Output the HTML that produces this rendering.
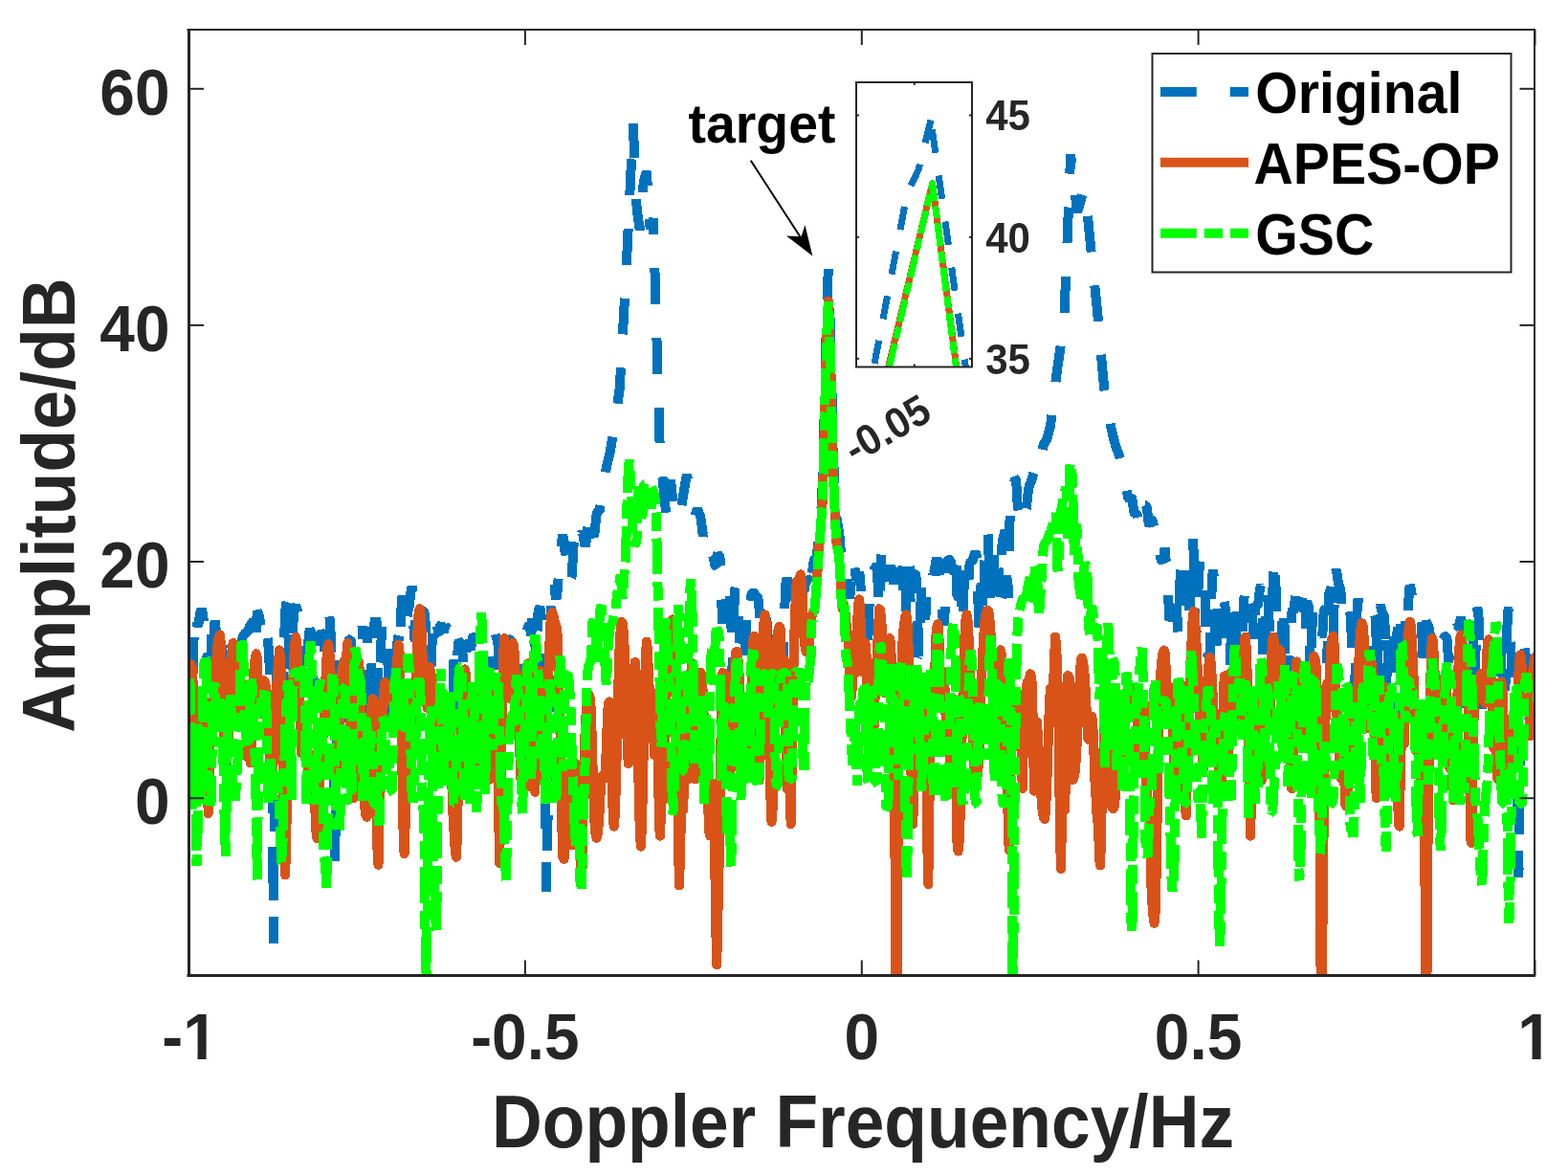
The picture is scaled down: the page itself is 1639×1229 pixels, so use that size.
<!DOCTYPE html>
<html><head><meta charset="utf-8"><title>Doppler spectrum</title>
<style>
html,body{margin:0;padding:0;background:#fff;}
svg{display:block;}
.t{font-family:"Liberation Sans",Arial,sans-serif;font-weight:bold;font-size:69.3px;fill:#262626;}
.k{font-family:"Liberation Sans",Arial,sans-serif;font-weight:bold;fill:#000;}
</style></head>
<body>
<svg width="1639" height="1229" viewBox="0 0 1639 1229">
<rect width="1639" height="1229" fill="#fff"/>
<clipPath id="pc"><rect x="197.0" y="31.0" width="1407.5" height="988.5"/></clipPath>
<g clip-path="url(#pc)" shape-rendering="crispEdges">
<path d="M197.5,722.2 L198.5,700.7 L199.5,694.1 L200.5,707.2 L201.5,707.7 L202.5,669.9 L203.5,642.4 L204.5,640.3 L205.5,648.0 L206.5,654.6 L207.5,651.8 L208.6,645.2 L209.6,639.3 L210.6,636.2 L211.6,639.8 L212.6,647.3 L213.6,652.5 L214.6,658.1 L215.6,676.8 L216.6,701.9 L217.6,682.0 L218.6,657.6 L219.6,654.9 L220.6,658.8 L221.6,685.5 L222.6,701.8 L223.6,666.9 L224.6,648.6 L225.6,657.5 L226.6,686.4 L227.6,702.2 L228.7,693.4 L229.7,701.2 L230.7,734.2 L231.7,700.1 L232.7,671.7 L233.7,690.0 L234.7,711.3 L235.7,739.1 L236.7,786.8 L237.7,816.1 L238.7,779.8 L239.7,748.8 L240.7,720.1 L241.7,697.5 L242.7,699.0 L243.7,663.9 L244.7,662.2 L245.7,664.6 L246.7,668.0 L247.8,670.4 L248.8,672.3 L249.8,675.5 L250.8,677.8 L251.8,674.1 L252.8,668.6 L253.8,665.6 L254.8,663.8 L255.8,662.3 L256.8,661.2 L257.8,661.0 L258.8,660.7 L259.8,657.7 L260.8,655.0 L261.8,653.3 L262.8,651.8 L263.8,650.3 L264.8,649.0 L265.8,653.7 L266.8,677.0 L267.9,651.9 L268.9,638.7 L269.9,640.4 L270.9,644.5 L271.9,648.9 L272.9,656.5 L273.9,651.8 L274.9,647.3 L275.9,646.4 L276.9,646.8 L277.9,650.9 L278.9,662.0 L279.9,668.9 L280.9,679.5 L281.9,700.8 L282.9,732.9 L283.9,783.1 L284.9,864.1 L285.9,986.0 L286.9,850.9 L288.0,764.6 L289.0,715.8 L290.0,687.6 L291.0,679.0 L292.0,699.1 L293.0,738.7 L294.0,758.6 L295.0,759.5 L296.0,732.9 L297.0,672.3 L298.0,641.0 L299.0,631.8 L300.0,628.8 L301.0,636.0 L302.0,666.5 L303.0,699.1 L304.0,693.7 L305.0,675.2 L306.0,658.2 L307.0,642.3 L308.0,634.9 L309.1,632.5 L310.1,635.0 L311.1,639.4 L312.1,643.8 L313.1,660.4 L314.1,683.7 L315.1,693.8 L316.1,692.6 L317.1,683.2 L318.1,673.6 L319.1,673.5 L320.1,685.7 L321.1,694.2 L322.1,673.7 L323.1,660.3 L324.1,658.5 L325.1,659.7 L326.1,678.3 L327.1,726.4 L328.1,723.5 L329.2,702.1 L330.2,710.3 L331.2,738.8 L332.2,710.3 L333.2,668.9 L334.2,663.9 L335.2,662.6 L336.2,661.6 L337.2,662.2 L338.2,672.1 L339.2,680.7 L340.2,666.3 L341.2,656.3 L342.2,653.6 L343.2,649.5 L344.2,643.4 L345.2,651.3 L346.2,678.4 L347.2,719.6 L348.2,771.9 L349.3,852.1 L350.3,904.5 L351.3,829.0 L352.3,749.0 L353.3,714.0 L354.3,691.3 L355.3,679.6 L356.3,712.8 L357.3,734.4 L358.3,717.9 L359.3,723.4 L360.3,752.3 L361.3,751.6 L362.3,707.7 L363.3,679.4 L364.3,670.4 L365.3,668.0 L366.3,667.8 L367.3,672.4 L368.4,694.0 L369.4,740.8 L370.4,755.4 L371.4,723.2 L372.4,692.2 L373.4,670.2 L374.4,661.0 L375.4,657.9 L376.4,653.6 L377.4,651.1 L378.4,653.7 L379.4,667.8 L380.4,661.8 L381.4,659.1 L382.4,658.9 L383.4,659.5 L384.4,701.7 L385.4,759.0 L386.4,701.5 L387.4,679.3 L388.4,706.5 L389.5,752.9 L390.5,688.4 L391.5,650.3 L392.5,646.1 L393.5,649.2 L394.5,673.3 L395.5,731.4 L396.5,727.5 L397.5,694.4 L398.5,669.3 L399.5,654.0 L400.5,651.7 L401.5,651.0 L402.5,650.4 L403.5,650.0 L404.5,653.9 L405.5,694.5 L406.5,747.8 L407.5,758.4 L408.6,741.4 L409.6,700.4 L410.6,680.5 L411.6,688.6 L412.6,732.1 L413.6,755.8 L414.6,701.2 L415.6,667.3 L416.6,665.7 L417.6,680.0 L418.6,665.1 L419.6,632.5 L420.6,622.7 L421.6,630.0 L422.6,637.4 L423.6,649.4 L424.6,653.5 L425.6,644.5 L426.6,638.1 L427.6,633.9 L428.6,626.2 L429.7,616.7 L430.7,612.8 L431.7,624.5 L432.7,663.9 L433.7,669.8 L434.7,631.4 L435.7,626.4 L436.7,628.6 L437.7,632.0 L438.7,638.8 L439.7,645.5 L440.7,639.6 L441.7,638.2 L442.7,638.8 L443.7,640.9 L444.7,651.3 L445.7,673.6 L446.7,684.7 L447.7,683.3 L448.8,685.5 L449.8,695.6 L450.8,695.0 L451.8,665.7 L452.8,647.1 L453.8,644.6 L454.8,642.2 L455.8,641.2 L456.8,645.7 L457.8,662.1 L458.8,662.6 L459.8,653.9 L460.8,653.2 L461.8,654.7 L462.8,658.4 L463.8,661.2 L464.8,656.0 L465.8,653.5 L466.8,655.7 L467.8,659.2 L468.8,661.7 L469.9,663.2 L470.9,663.9 L471.9,665.0 L472.9,671.3 L473.9,699.0 L474.9,751.0 L475.9,759.8 L476.9,745.8 L477.9,691.8 L478.9,672.6 L479.9,670.2 L480.9,670.8 L481.9,672.9 L482.9,677.3 L483.9,687.7 L484.9,704.1 L485.9,703.7 L486.9,681.4 L487.9,673.2 L489.0,672.8 L490.0,673.7 L491.0,676.9 L492.0,679.4 L493.0,671.9 L494.0,666.1 L495.0,663.4 L496.0,665.4 L497.0,669.2 L498.0,671.5 L499.0,672.3 L500.0,672.9 L501.0,673.6 L502.0,673.1 L503.0,671.3 L504.0,670.2 L505.0,669.8 L506.0,670.0 L507.0,672.5 L508.0,684.8 L509.1,712.6 L510.1,743.1 L511.1,735.6 L512.1,692.4 L513.1,669.2 L514.1,664.5 L515.1,659.8 L516.1,657.3 L517.1,659.8 L518.1,664.3 L519.1,666.9 L520.1,668.5 L521.1,681.3 L522.1,700.0 L523.1,683.6 L524.1,670.3 L525.1,668.5 L526.1,668.5 L527.1,670.1 L528.1,675.3 L529.1,678.9 L530.2,673.4 L531.2,669.1 L532.2,668.3 L533.2,668.3 L534.2,669.4 L535.2,680.0 L536.2,709.8 L537.2,723.4 L538.2,716.3 L539.2,713.2 L540.2,716.1 L541.2,713.4 L542.2,705.2 L543.2,705.3 L544.2,721.5 L545.2,740.0 L546.2,720.6 L547.2,682.2 L548.2,669.0 L549.2,664.5 L550.3,661.1 L551.3,657.7 L552.3,654.5 L553.3,652.3 L554.3,658.8 L555.3,664.5 L556.3,648.4 L557.3,638.7 L558.3,643.5 L559.3,669.9 L560.3,699.0 L561.3,670.7 L562.3,642.2 L563.3,636.3 L564.3,635.1 L565.3,637.7 L566.3,657.2 L567.3,687.3 L568.3,726.4 L569.4,786.1 L570.4,868.8 L571.4,931.6 L572.4,864.0 L573.4,798.1 L574.4,740.9 L575.4,677.6 L576.4,629.2 L577.4,608.1 L578.4,604.9 L579.4,608.8 L580.4,620.6 L581.4,626.6 L582.4,619.6 L583.4,608.2 L584.4,587.8 L585.4,588.5 L586.4,577.9 L587.4,564.5 L588.4,559.4 L589.5,565.3 L590.5,576.6 L591.5,578.7 L592.5,575.7 L593.5,573.0 L594.5,578.1 L595.5,592.1 L596.5,605.6 L597.5,603.5 L598.5,588.4 L599.5,570.6 L600.5,562.8 L601.5,562.8 L602.5,566.4 L603.5,571.4 L604.5,575.1 L605.5,571.3 L606.5,566.4 L607.5,558.4 L608.5,556.3 L609.5,558.7 L610.6,566.3 L611.6,571.5 L612.6,566.2 L613.6,554.6 L614.6,549.2 L615.6,550.1" fill="none" stroke="#0072BD" stroke-width="10" stroke-linejoin="bevel" stroke-dasharray="37.75 35.0" stroke-dashoffset="26.22"/>
<path d="M616.6,553.3 L617.6,554.8 L618.6,555.8 L619.6,559.1 L620.6,560.5 L621.6,555.9 L622.6,546.0 L623.6,537.6 L624.6,534.1 L625.6,534.1 L626.6,533.8 L627.6,527.9 L628.6,520.1 L629.7,513.5 L630.7,508.6 L631.7,503.4 L632.7,496.6 L633.7,489.5 L634.7,484.4 L635.7,480.5 L636.7,476.9 L637.7,472.3 L638.7,466.7 L639.7,460.7 L640.7,454.7 L641.7,447.2 L642.7,440.3 L643.7,433.6 L644.7,426.8 L645.7,420.0 L646.7,413.1 L647.7,406.3 L648.7,388.3 L649.8,370.3 L650.8,351.9 L651.8,333.4 L652.8,314.8 L653.8,296.3 L654.8,277.8 L655.8,256.6 L656.8,235.4 L657.8,214.2 L658.8,193.0 L659.8,171.9 L660.8,150.7 L661.8,129.5 L662.8,154.2 L663.8,178.9" fill="none" stroke="#0072BD" stroke-width="10" stroke-linejoin="bevel" stroke-dasharray="37.75 35.0" stroke-dashoffset="67.50"/>
<path d="M664.8,203.6 L665.8,219.5 L666.8,226.6 L667.8,233.6 L668.8,240.7 L669.8,226.6 L670.9,212.4 L671.9,198.3 L672.9,189.5 L673.9,186.0 L674.9,182.4 L675.9,178.9 L676.9,196.6 L677.9,214.2 L678.9,231.9 L679.9,238.9 L680.9,235.4 L681.9,231.9 L682.9,228.4 L683.9,263.7 L684.9,298.9 L685.9,334.1 L686.9,369.1 L687.9,404.2 L688.9,439.6 L689.9,474.5 L691.0,483.8 L692.0,493.7 L693.0,504.4 L694.0,514.9 L695.0,524.9 L696.0,534.5 L697.0,543.9 L698.0,532.1 L699.0,518.8 L700.0,504.7 L701.0,501.8 L702.0,511.0 L703.0,520.8 L704.0,529.6 L705.0,530.1 L706.0,530.6 L707.0,532.6 L708.0,536.6 L709.0,541.0 L710.0,542.3 L711.1,539.5 L712.1,530.3 L713.1,524.0 L714.1,518.2 L715.1,512.3 L716.1,506.4 L717.1,500.5 L718.1,495.8 L719.1,502.9 L720.1,508.0 L721.1,508.8 L722.1,509.6 L723.1,513.2 L724.1,516.9 L725.1,521.4 L726.1,531.4 L727.1,536.6 L728.1,533.8 L729.1,532.1 L730.1,534.6 L731.2,537.3 L732.2,540.2 L733.2,546.1 L734.2,555.8 L735.2,559.5 L736.2,557.3 L737.2,554.1 L738.2,553.0 L739.2,553.9 L740.2,557.7 L741.2,564.6 L742.2,573.6 L743.2,579.6 L744.2,580.7 L745.2,581.0 L746.2,585.1 L747.2,591.4 L748.2,591.7 L749.2,582.0 L750.2,579.1 L751.3,580.3 L752.3,581.9 L753.3,588.4 L754.3,630.9 L755.3,651.8 L756.3,637.1 L757.3,630.1 L758.3,634.3 L759.3,633.8 L760.3,622.4 L761.3,619.1 L762.3,619.1 L763.3,620.7 L764.3,643.2 L765.3,710.1 L766.3,691.5 L767.3,636.0 L768.3,615.7 L769.3,611.5 L770.4,615.7 L771.4,628.7 L772.4,652.1 L773.4,671.5 L774.4,669.6 L775.4,660.2 L776.4,661.9 L777.4,678.2 L778.4,689.3 L779.4,667.2 L780.4,641.7 L781.4,632.7 L782.4,635.6 L783.4,640.1 L784.4,630.4 L785.4,621.4 L786.4,619.8 L787.4,619.5 L788.4,619.9 L789.4,621.4 L790.5,623.0 L791.5,623.4 L792.5,625.8 L793.5,636.1 L794.5,655.7 L795.5,668.4 L796.5,664.4 L797.5,656.1 L798.5,651.0 L799.5,647.8 L800.5,645.9 L801.5,649.2 L802.5,662.8 L803.5,690.2 L804.5,723.3 L805.5,731.4 L806.5,725.2 L807.5,716.2 L808.5,711.4 L809.5,708.1 L810.5,707.2 L811.6,711.9 L812.6,715.1 L813.6,699.6 L814.6,672.8 L815.6,655.8 L816.6,656.1 L817.6,675.2 L818.6,696.3 L819.6,668.8 L820.6,626.5 L821.6,608.2 L822.6,604.1 L823.6,608.5 L824.6,621.5 L825.6,636.1 L826.6,626.5 L827.6,613.2 L828.6,610.3 L829.6,612.6 L830.6,616.6 L831.7,619.0 L832.7,620.0 L833.7,620.6 L834.7,631.6 L835.7,650.5 L836.7,632.2 L837.7,619.5 L838.7,617.7 L839.7,617.1 L840.7,616.7 L841.7,610.4 L842.7,608.7 L843.7,606.8 L844.7,605.0 L845.7,605.4 L846.7,615.9 L847.7,620.5 L848.7,604.8 L849.7,591.6 L850.8,585.8 L851.8,583.2 L852.8,585.4 L853.8,582.6 L854.8,571.5 L855.8,560.3 L856.8,552.0 L857.8,543.7 L858.8,525.4 L859.8,503.3 L860.8,469.0 L861.8,425.2 L862.8,378.2 L863.8,342.5 L864.8,306.8 L865.8,281.4 L866.8,306.8 L867.8,342.5 L868.8,378.0 L869.8,424.7 L870.9,467.8 L871.9,500.4 L872.9,521.2 L873.9,539.6 L874.9,543.5 L875.9,549.4 L876.9,556.0 L877.9,563.7 L878.9,577.6 L879.9,587.6 L880.9,589.1 L881.9,592.8 L882.9,601.6 L883.9,607.7 L884.9,605.4 L885.9,604.4 L886.9,612.4 L887.9,625.0 L888.9,620.0 L889.9,598.5 L891.0,587.5 L892.0,583.1 L893.0,589.0 L894.0,598.8 L895.0,603.8 L896.0,604.3 L897.0,601.1 L898.0,598.2 L899.0,602.9 L900.0,620.2 L901.0,649.1 L902.0,678.7 L903.0,694.4 L904.0,696.6 L905.0,696.0 L906.0,694.0 L907.0,681.7 L908.0,648.7 L909.0,619.4 L910.0,605.8 L911.0,601.2 L912.1,598.7 L913.1,596.6 L914.1,594.4 L915.1,592.6 L916.1,592.1 L917.1,598.7 L918.1,623.0 L919.1,638.2 L920.1,611.5 L921.1,582.7 L922.1,574.4 L923.1,578.4 L924.1,587.0 L925.1,594.6 L926.1,600.4 L927.1,604.6 L928.1,606.3 L929.1,601.5 L930.1,594.1 L931.2,591.7 L932.2,594.3 L933.2,600.1 L934.2,619.1 L935.2,626.7 L936.2,603.6 L937.2,600.0 L938.2,599.1 L939.2,598.2 L940.2,597.4 L941.2,596.6 L942.2,595.7 L943.2,595.0 L944.2,597.2 L945.2,662.1 L946.2,682.3 L947.2,598.2 L948.2,583.0 L949.2,579.4 L950.2,582.3 L951.2,604.8 L952.3,678.3 L953.3,671.2 L954.3,614.5 L955.3,598.9 L956.3,598.4 L957.3,601.2 L958.3,612.5 L959.3,646.7 L960.3,686.4 L961.3,685.0 L962.3,634.4 L963.3,608.2 L964.3,606.7 L965.3,607.6 L966.3,618.0 L967.3,647.9 L968.3,625.5 L969.3,596.7 L970.3,594.9 L971.4,596.3 L972.4,596.4 L973.4,595.9 L974.4,597.2 L975.4,599.3 L976.4,597.4 L977.4,592.5 L978.4,586.2 L979.4,583.1 L980.4,587.0 L981.4,595.7 L982.4,607.0 L983.4,620.6 L984.4,633.8 L985.4,644.9 L986.4,653.9 L987.4,645.2 L988.4,608.8 L989.4,587.7 L990.4,585.8 L991.5,585.3 L992.5,584.8 L993.5,585.0 L994.5,597.6 L995.5,597.3 L996.5,577.1 L997.5,573.2 L998.5,576.1 L999.5,586.0 L1000.5,623.1 L1001.5,623.7 L1002.5,595.9 L1003.5,590.1 L1004.5,599.9 L1005.5,637.3 L1006.5,654.0 L1007.5,616.6 L1008.5,594.9 L1009.5,592.4 L1010.5,599.6 L1011.6,611.9 L1012.6,604.3 L1013.6,588.7 L1014.6,586.7 L1015.6,586.7 L1016.6,585.6 L1017.6,582.8 L1018.6,579.3 L1019.6,576.9 L1020.6,579.4 L1021.6,597.2 L1022.6,633.8 L1023.6,657.0 L1024.6,632.2 L1025.6,609.3 L1026.6,613.6 L1027.6,645.7 L1028.6,636.3 L1029.6,576.7 L1030.6,557.8 L1031.7,554.7 L1032.7,558.3 L1033.7,585.1 L1034.7,628.2 L1035.7,590.1 L1036.7,568.0 L1037.7,566.6 L1038.7,573.0 L1039.7,599.3 L1040.7,608.5 L1041.7,591.1" fill="none" stroke="#0072BD" stroke-width="10" stroke-linejoin="bevel" stroke-dasharray="37.75 35.0" stroke-dashoffset="68.37"/>
<path d="M1041.7,591.1 L1042.7,584.6 L1043.7,596.8 L1044.7,623.0 L1045.7,620.8 L1046.7,584.1 L1047.7,566.1 L1048.7,562.3 L1049.7,557.3 L1050.7,554.1 L1051.8,565.5 L1052.8,620.1 L1053.8,624.8 L1054.8,570.0 L1055.8,534.2 L1056.8,528.9 L1057.8,526.7 L1058.8,518.7 L1059.8,506.8 L1060.8,500.2 L1061.8,501.0 L1062.8,511.2 L1063.8,529.9 L1064.8,533.8 L1065.8,524.8 L1066.8,518.4 L1067.8,518.7 L1068.8,522.2 L1069.8,527.8 L1070.8,530.7 L1071.8,533.5 L1072.9,531.0 L1073.9,521.6 L1074.9,512.4 L1075.9,507.7 L1076.9,505.0 L1077.9,502.8 L1078.9,499.7 L1079.9,495.8 L1080.9,492.5 L1081.9,490.6 L1082.9,492.4 L1083.9,494.9 L1084.9,494.5 L1085.9,491.0 L1086.9,485.4 L1087.9,479.2 L1088.9,473.2 L1089.9,468.1 L1090.9,464.5 L1092.0,462.2 L1093.0,461.0 L1094.0,459.7 L1095.0,456.8 L1096.0,452.8 L1097.0,448.9 L1098.0,445.5 L1099.0,437.1 L1100.0,428.0 L1101.0,419.4 L1102.0,411.2 L1103.0,403.0 L1104.0,394.7 L1105.0,386.5 L1106.0,379.8 L1107.0,373.0 L1108.0,366.2 L1109.0,359.5 L1110.0,352.9 L1111.0,346.2 L1112.0,339.4 L1113.1,314.1 L1114.1,288.7 L1115.1,263.2 L1116.1,237.8 L1117.1,212.4 L1118.1,187.0 L1119.1,161.6 L1120.1,170.2" fill="none" stroke="#0072BD" stroke-width="10" stroke-linejoin="bevel" stroke-dasharray="37.75 35.0" stroke-dashoffset="57.11"/>
<path d="M1121.1,178.9 L1122.1,187.5 L1123.1,196.2 L1124.1,204.9 L1125.1,213.5 L1126.1,222.1 L1127.1,218.6 L1128.1,215.0 L1129.1,211.5 L1130.1,208.0 L1131.1,204.5 L1132.1,201.0 L1133.2,197.5 L1134.2,204.9 L1135.2,212.2 L1136.2,219.6 L1137.2,228.4 L1138.2,238.7 L1139.2,249.0 L1140.2,259.2 L1141.2,268.9 L1142.2,278.6 L1143.2,288.2 L1144.2,297.9 L1145.2,307.6 L1146.2,317.2 L1147.2,326.8 L1148.2,338.4 L1149.2,350.0 L1150.2,361.6 L1151.2,373.3 L1152.2,384.9 L1153.3,396.1 L1154.3,406.7 L1155.3,411.6 L1156.3,417.0 L1157.3,422.6 L1158.3,428.6 L1159.3,434.8 L1160.3,440.8 L1161.3,446.7 L1162.3,450.7 L1163.3,455.1 L1164.3,459.2 L1165.3,462.9 L1166.3,466.1 L1167.3,469.2 L1168.3,471.6 L1169.3,474.4 L1170.3,477.3 L1171.3,481.5 L1172.3,488.1 L1173.4,496.7 L1174.4,504.2 L1175.4,508.1 L1176.4,508.6 L1177.4,510.9 L1178.4,515.8 L1179.4,520.5 L1180.4,521.3 L1181.4,519.3 L1182.4,518.9 L1183.4,521.9 L1184.4,528.9 L1185.4,535.6 L1186.4,537.8 L1187.4,537.0 L1188.4,537.5 L1189.4,541.5 L1190.4,547.3 L1191.4,550.0 L1192.5,551.0 L1193.5,546.5 L1194.5,538.8 L1195.5,531.0 L1196.5,527.7 L1197.5,527.8 L1198.5,529.8 L1199.5,536.2 L1200.5,545.8 L1201.5,549.6 L1202.5,546.3 L1203.5,543.0 L1204.5,543.8 L1205.5,547.9 L1206.5,551.1 L1207.5,550.7 L1208.5,549.1 L1209.5,550.5 L1210.5,557.2 L1211.5,568.2 L1212.5,579.8 L1213.6,584.9 L1214.6,586.1 L1215.6,587.1 L1216.6,581.9 L1217.6,572.4 L1218.6,584.8 L1219.6,593.9 L1220.6,609.6 L1221.6,632.7 L1222.6,648.8 L1223.6,645.6 L1224.6,640.7 L1225.6,647.3 L1226.6,659.2 L1227.6,654.2 L1228.6,637.2 L1229.6,631.7 L1230.6,645.9 L1231.6,664.4 L1232.7,637.9 L1233.7,598.7 L1234.7,580.8 L1235.7,580.3 L1236.7,594.4 L1237.7,616.7 L1238.7,610.8 L1239.7,588.7 L1240.7,581.0 L1241.7,589.2 L1242.7,621.6 L1243.7,653.5 L1244.7,614.7 L1245.7,574.6 L1246.7,562.1 L1247.7,577.2 L1248.7,618.8 L1249.7,666.3 L1250.7,659.4 L1251.7,631.0 L1252.8,609.0 L1253.8,591.1 L1254.8,584.8 L1255.8,585.6 L1256.8,587.4 L1257.8,589.5 L1258.8,594.0 L1259.8,621.6 L1260.8,670.6 L1261.8,688.4 L1262.8,682.5 L1263.8,688.3 L1264.8,684.2 L1265.8,644.7 L1266.8,608.6 L1267.8,595.5 L1268.8,602.5 L1269.8,630.4 L1270.8,679.2 L1271.8,692.0 L1272.8,649.2 L1273.9,622.2 L1274.9,616.1 L1275.9,616.0 L1276.9,617.6 L1277.9,620.5 L1278.9,624.5 L1279.9,629.6 L1280.9,637.1 L1281.9,651.2 L1282.9,680.0 L1283.9,729.1 L1284.9,734.5 L1285.9,701.7 L1286.9,653.0 L1287.9,633.7 L1288.9,630.8 L1289.9,634.7 L1290.9,646.1 L1291.9,663.0 L1293.0,679.9 L1294.0,695.7 L1295.0,711.3 L1296.0,722.4 L1297.0,718.7 L1298.0,689.6 L1299.0,652.2 L1300.0,628.4 L1301.0,621.4 L1302.0,624.3 L1303.0,633.9 L1304.0,636.7 L1305.0,628.5 L1306.0,626.5 L1307.0,625.9 L1308.0,625.5 L1309.0,630.1 L1310.0,670.9 L1311.0,673.2 L1312.0,641.1 L1313.0,631.0 L1314.1,633.1 L1315.1,633.3 L1316.1,622.1 L1317.1,614.7 L1318.1,611.5 L1319.1,614.7 L1320.1,652.0 L1321.1,736.9 L1322.1,715.0 L1323.1,642.6 L1324.1,618.6 L1325.1,615.8 L1326.1,629.4 L1327.1,674.4 L1328.1,737.8 L1329.1,706.0 L1330.1,630.2 L1331.1,592.0 L1332.1,581.9 L1333.2,599.4 L1334.2,643.6 L1335.2,697.8 L1336.2,716.7 L1337.2,714.8 L1338.2,704.3 L1339.2,671.0 L1340.2,639.8 L1341.2,630.1 L1342.2,641.7 L1343.2,676.5 L1344.2,711.5 L1345.2,699.5 L1346.2,685.6 L1347.2,692.3 L1348.2,695.0 L1349.2,666.4 L1350.2,641.7 L1351.2,635.6 L1352.2,640.2 L1353.2,634.3 L1354.3,613.4 L1355.3,606.6 L1356.3,610.0 L1357.3,616.4 L1358.3,626.8 L1359.3,637.2 L1360.3,628.2 L1361.3,625.9 L1362.3,630.9 L1363.3,659.0 L1364.3,665.8 L1365.3,633.4 L1366.3,629.9 L1367.3,631.0 L1368.3,636.5 L1369.3,685.3 L1370.3,712.3 L1371.3,659.3 L1372.3,640.2 L1373.3,639.5 L1374.4,642.3 L1375.4,647.1 L1376.4,647.5 L1377.4,644.7 L1378.4,644.3 L1379.4,645.6 L1380.4,650.4 L1381.4,665.9 L1382.4,662.1 L1383.4,642.8 L1384.4,636.8 L1385.4,636.0 L1386.4,662.1 L1387.4,692.9 L1388.4,637.7 L1389.4,620.3 L1390.4,616.7 L1391.4,613.9 L1392.4,622.5 L1393.5,667.4 L1394.5,636.1 L1395.5,599.6 L1396.5,595.5 L1397.5,599.6 L1398.5,606.7 L1399.5,611.3 L1400.5,613.9 L1401.5,619.0 L1402.5,633.9 L1403.5,644.7 L1404.5,641.6 L1405.5,636.2 L1406.5,634.5 L1407.5,634.4 L1408.5,633.3 L1409.5,632.6 L1410.5,634.9 L1411.5,643.0 L1412.5,660.7 L1413.6,685.7 L1414.6,710.5 L1415.6,721.1 L1416.6,703.7 L1417.6,667.6 L1418.6,636.5 L1419.6,625.1 L1420.6,637.2 L1421.6,667.1 L1422.6,695.3 L1423.6,702.4 L1424.6,695.8 L1425.6,688.6 L1426.6,686.9 L1427.6,693.5 L1428.6,710.2 L1429.6,733.7 L1430.6,745.6 L1431.6,738.0 L1432.6,704.9 L1433.7,668.4 L1434.7,646.3 L1435.7,641.8 L1436.7,641.8 L1437.7,644.9 L1438.7,671.3 L1439.7,711.0 L1440.7,673.3 L1441.7,637.4 L1442.7,632.5 L1443.7,635.7 L1444.7,640.4 L1445.7,641.7 L1446.7,642.4 L1447.7,655.6 L1448.7,713.1 L1449.7,740.9 L1450.7,682.2 L1451.7,655.7 L1452.7,651.5 L1453.8,650.4 L1454.8,650.4 L1455.8,651.7 L1456.8,661.4 L1457.8,701.5 L1458.8,751.8 L1459.8,697.3 L1460.8,645.2 L1461.8,637.5 L1462.8,636.4 L1463.8,645.1 L1464.8,679.4 L1465.8,679.6 L1466.8,651.8 L1467.8,642.0 L1468.8,651.3 L1469.8,677.2 L1470.8,679.5 L1471.8,643.8 L1472.8,618.2 L1473.8,611.5 L1474.9,615.7 L1475.9,624.0 L1476.9,629.6 L1477.9,631.1 L1478.9,631.2 L1479.9,631.5 L1480.9,631.2 L1481.9,629.9 L1482.9,630.1 L1483.9,634.2 L1484.9,641.3 L1485.9,652.8 L1486.9,675.0 L1487.9,693.9 L1488.9,675.0 L1489.9,652.0 L1490.9,650.2 L1491.9,651.7 L1492.9,653.3 L1493.9,657.3 L1495.0,664.2 L1496.0,666.6 L1497.0,667.6 L1498.0,670.2 L1499.0,672.5 L1500.0,675.1 L1501.0,675.8 L1502.0,676.3 L1503.0,678.9 L1504.0,682.7 L1505.0,685.1 L1506.0,685.0 L1507.0,681.5 L1508.0,673.0 L1509.0,666.9 L1510.0,665.5 L1511.0,665.2 L1512.0,665.5 L1513.0,671.3 L1514.0,692.1 L1515.1,686.8 L1516.1,670.5 L1517.1,666.6 L1518.1,667.0 L1519.1,668.0 L1520.1,665.1 L1521.1,660.7 L1522.1,656.1 L1523.1,653.4 L1524.1,655.0 L1525.1,655.6 L1526.1,649.2 L1527.1,644.9 L1528.1,650.1 L1529.1,667.6 L1530.1,689.0 L1531.1,697.2 L1532.1,706.3 L1533.1,739.5 L1534.2,756.0 L1535.2,707.3 L1536.2,658.7 L1537.2,651.7 L1538.2,651.1 L1539.2,655.0 L1540.2,697.7 L1541.2,747.0 L1542.2,694.6 L1543.2,647.9 L1544.2,635.0 L1545.2,639.5 L1546.2,657.8 L1547.2,692.0 L1548.2,731.5 L1549.2,749.0 L1550.2,747.4 L1551.2,745.3 L1552.2,747.9 L1553.2,748.1 L1554.2,736.7 L1555.3,716.2 L1556.3,699.1 L1557.3,690.2 L1558.3,690.4 L1559.3,701.2 L1560.3,724.4 L1561.3,749.7 L1562.3,751.3 L1563.3,732.2 L1564.3,718.8 L1565.3,728.5 L1566.3,754.1 L1567.3,755.3 L1568.3,712.7 L1569.3,677.2 L1570.3,666.8 L1571.3,677.1 L1572.3,706.7 L1573.3,721.6 L1574.3,687.4 L1575.4,654.6 L1576.4,638.1 L1577.4,635.0 L1578.4,649.6 L1579.4,679.0 L1580.4,707.4 L1581.4,719.7 L1582.4,725.2 L1583.4,730.0 L1584.4,743.0 L1585.4,777.8 L1586.4,844.1 L1587.4,916.8 L1588.4,847.3 L1589.4,767.3 L1590.4,722.3 L1591.4,692.6 L1592.4,672.1 L1593.4,665.8 L1594.5,683.1 L1595.5,706.1 L1596.5,721.4 L1597.5,740.2 L1598.5,751.7 L1599.5,732.5 L1600.5,702.8 L1601.5,692.7 L1602.5,703.2 L1603.5,724.7 L1604.5,722.3" fill="none" stroke="#0072BD" stroke-width="10" stroke-linejoin="bevel" stroke-dasharray="37.75 35.0" stroke-dashoffset="47.80"/>
<path d="M197.5,701.5 L198.5,696.3 L199.5,694.3 L200.5,696.4 L201.5,710.2 L202.5,756.9 L203.5,768.0 L204.5,726.1 L205.5,724.4 L206.5,727.4 L207.5,756.6 L208.6,805.1 L209.6,776.2 L210.6,751.9 L211.6,763.6 L212.6,802.7 L213.6,786.5 L214.6,756.3 L215.6,758.2 L216.6,781.4 L217.6,850.1 L218.6,809.8 L219.6,755.1 L220.6,748.1 L221.6,739.2 L222.6,728.2 L223.6,723.1 L224.6,759.4 L225.6,713.9 L226.6,683.2 L227.6,672.4 L228.7,665.6 L229.7,663.4 L230.7,670.5 L231.7,691.7 L232.7,723.6 L233.7,757.3 L234.7,780.4 L235.7,796.9 L236.7,795.6 L237.7,789.2 L238.7,770.9 L239.7,744.9 L240.7,719.9 L241.7,692.5 L242.7,676.0 L243.7,672.1 L244.7,680.6 L245.7,700.5 L246.7,720.4 L247.8,743.3 L248.8,737.3 L249.8,726.3 L250.8,722.8 L251.8,720.0 L252.8,717.0 L253.8,715.0 L254.8,715.3 L255.8,718.9 L256.8,735.5 L257.8,778.2 L258.8,791.7 L259.8,788.1 L260.8,780.0 L261.8,797.5 L262.8,786.8 L263.8,759.4 L264.8,709.7 L265.8,694.8 L266.8,686.9 L267.9,683.2 L268.9,688.3 L269.9,721.9 L270.9,746.2 L271.9,736.9 L272.9,712.2 L273.9,710.7 L274.9,711.4 L275.9,711.6 L276.9,712.5 L277.9,718.1 L278.9,738.6 L279.9,763.7 L280.9,779.0 L281.9,792.1 L282.9,819.3 L283.9,825.3 L284.9,822.7 L285.9,783.7 L286.9,743.5 L288.0,725.4 L289.0,716.7 L290.0,707.2 L291.0,692.9 L292.0,679.4 L293.0,684.7 L294.0,710.4 L295.0,750.8 L296.0,805.5 L297.0,869.0 L298.0,914.3 L299.0,891.7 L300.0,833.3 L301.0,782.4 L302.0,749.2 L303.0,732.4 L304.0,737.4 L305.0,739.9 L306.0,714.9 L307.0,693.2 L308.0,673.5 L309.1,665.9 L310.1,670.0 L311.1,685.7 L312.1,712.7 L313.1,740.1 L314.1,767.3 L315.1,787.3 L316.1,781.7 L317.1,770.2 L318.1,762.0 L319.1,757.6 L320.1,759.5 L321.1,772.4 L322.1,801.5 L323.1,835.2 L324.1,835.6 L325.1,833.2 L326.1,832.8 L327.1,826.3 L328.1,828.1 L329.2,842.8 L330.2,866.6 L331.2,876.0 L332.2,872.5 L333.2,852.4 L334.2,813.9 L335.2,787.4 L336.2,774.1 L337.2,772.5 L338.2,765.3 L339.2,739.8 L340.2,714.1 L341.2,691.8 L342.2,677.6 L343.2,673.3 L344.2,679.1 L345.2,694.0 L346.2,714.7 L347.2,739.9 L348.2,766.0 L349.3,759.9 L350.3,734.9 L351.3,722.3 L352.3,729.2 L353.3,770.5 L354.3,814.6 L355.3,752.4 L356.3,705.0 L357.3,701.0 L358.3,697.1 L359.3,691.2 L360.3,697.0 L361.3,702.0 L362.3,683.6 L363.3,672.1 L364.3,685.5 L365.3,722.7 L366.3,770.1 L367.3,806.8 L368.4,826.2 L369.4,834.0 L370.4,814.8 L371.4,768.7 L372.4,728.8 L373.4,705.8 L374.4,690.5 L375.4,692.6 L376.4,730.5 L377.4,767.5 L378.4,793.4 L379.4,813.7 L380.4,826.8 L381.4,844.4 L382.4,851.7 L383.4,853.8 L384.4,851.6 L385.4,811.7 L386.4,772.8 L387.4,751.1 L388.4,737.0 L389.5,730.2 L390.5,731.2 L391.5,743.3 L392.5,764.9 L393.5,798.3 L394.5,887.8 L395.5,903.7 L396.5,856.2 L397.5,828.5 L398.5,796.4 L399.5,765.2 L400.5,739.6 L401.5,720.3 L402.5,712.9 L403.5,718.3 L404.5,731.1 L405.5,732.0 L406.5,724.6 L407.5,723.0 L408.6,721.8 L409.6,721.0 L410.6,720.7 L411.6,717.9 L412.6,712.3 L413.6,706.2 L414.6,697.9 L415.6,684.9 L416.6,673.8 L417.6,682.0 L418.6,712.4 L419.6,760.9 L420.6,814.1 L421.6,871.7 L422.6,892.1 L423.6,863.1 L424.6,825.5 L425.6,795.3 L426.6,768.8 L427.6,741.8 L428.6,722.3 L429.7,716.5 L430.7,717.7 L431.7,730.1 L432.7,753.5 L433.7,756.8 L434.7,722.5 L435.7,681.1 L436.7,653.2 L437.7,639.6 L438.7,636.2 L439.7,642.9 L440.7,661.8 L441.7,688.4 L442.7,709.2 L443.7,714.9 L444.7,720.0 L445.7,735.1 L446.7,739.8 L447.7,709.5 L448.8,696.8 L449.8,700.8 L450.8,705.8 L451.8,712.4 L452.8,718.9 L453.8,723.7 L454.8,726.4 L455.8,727.7 L456.8,729.4 L457.8,753.6 L458.8,810.2 L459.8,807.9 L460.8,788.0 L461.8,799.2 L462.8,813.1 L463.8,775.0 L464.8,732.0 L465.8,729.1 L466.8,729.1 L467.8,729.1 L468.8,729.2 L469.9,729.5 L470.9,735.7 L471.9,799.3 L472.9,841.2 L473.9,858.8 L474.9,876.0 L475.9,890.3 L476.9,895.8 L477.9,875.5 L478.9,821.0 L479.9,793.4 L480.9,786.5 L481.9,776.4 L482.9,738.5 L483.9,710.4 L484.9,701.4 L485.9,699.3 L486.9,704.4 L487.9,716.9 L489.0,724.8 L490.0,730.0 L491.0,744.9 L492.0,782.2 L493.0,812.2 L494.0,814.5 L495.0,815.2 L496.0,815.4 L497.0,815.5 L498.0,815.4 L499.0,796.7 L500.0,770.1 L501.0,766.1 L502.0,772.4 L503.0,763.6 L504.0,734.9 L505.0,712.2 L506.0,704.8 L507.0,702.7 L508.0,702.1 L509.1,705.3 L510.1,724.7 L511.1,770.4 L512.1,814.6 L513.1,806.1 L514.1,755.1 L515.1,727.5 L516.1,717.7 L517.1,726.7 L518.1,743.8 L519.1,763.1 L520.1,795.0 L521.1,848.5 L522.1,902.0 L523.1,857.1 L524.1,784.8 L525.1,721.6 L526.1,683.2 L527.1,667.2 L528.1,677.7 L529.1,702.9 L530.2,707.5 L531.2,702.6 L532.2,711.4 L533.2,730.3 L534.2,715.7 L535.2,688.2 L536.2,672.1 L537.2,674.4 L538.2,693.2 L539.2,716.2 L540.2,711.5 L541.2,704.6 L542.2,717.8 L543.2,780.4 L544.2,813.5 L545.2,749.4 L546.2,715.2 L547.2,724.6 L548.2,775.8 L549.2,753.3 L550.3,698.5 L551.3,693.8 L552.3,693.4 L553.3,710.3 L554.3,822.5 L555.3,790.2 L556.3,732.4 L557.3,735.7 L558.3,760.2 L559.3,827.8 L560.3,787.6 L561.3,732.3 L562.3,718.2 L563.3,705.9 L564.3,700.9 L565.3,754.8 L566.3,815.3 L567.3,794.5 L568.3,754.1 L569.4,748.1 L570.4,757.2 L571.4,760.5 L572.4,738.5 L573.4,704.7 L574.4,672.3 L575.4,651.2 L576.4,642.4 L577.4,640.1 L578.4,643.1 L579.4,648.9 L580.4,652.1 L581.4,653.5 L582.4,659.5 L583.4,680.9 L584.4,716.5 L585.4,760.0 L586.4,812.2 L587.4,866.9 L588.4,895.8 L589.5,897.9 L590.5,883.0 L591.5,862.2 L592.5,841.1 L593.5,811.3 L594.5,801.9 L595.5,821.4 L596.5,856.3 L597.5,883.4 L598.5,866.0 L599.5,827.2 L600.5,801.9 L601.5,797.6 L602.5,806.0 L603.5,813.2 L604.5,822.5 L605.5,849.6 L606.5,895.9 L607.5,923.4 L608.5,909.4 L609.5,845.9 L610.6,796.1 L611.6,763.9 L612.6,745.8 L613.6,734.3 L614.6,727.2 L615.6,726.4 L616.6,728.8 L617.6,739.3 L618.6,766.3 L619.6,803.5 L620.6,838.0 L621.6,861.5 L622.6,872.5 L623.6,876.0 L624.6,872.6 L625.6,863.3 L626.6,848.9 L627.6,829.9 L628.6,815.4 L629.7,810.9 L630.7,813.4 L631.7,813.6 L632.7,807.3 L633.7,783.3 L634.7,756.0 L635.7,736.3 L636.7,733.4 L637.7,745.8 L638.7,769.1 L639.7,804.6 L640.7,853.2 L641.7,863.7 L642.7,852.3 L643.7,826.5 L644.7,787.8 L645.7,743.5 L646.7,702.4 L647.7,672.5 L648.7,657.0 L649.8,649.8 L650.8,651.4 L651.8,661.1 L652.8,678.8 L653.8,706.1 L654.8,744.4 L655.8,783.1 L656.8,798.1 L657.8,796.2 L658.8,780.8 L659.8,758.6 L660.8,736.3 L661.8,717.9 L662.8,700.6 L663.8,691.9 L664.8,705.1 L665.8,740.2 L666.8,785.8 L667.8,829.9 L668.8,869.2 L669.8,884.7 L670.9,865.6 L671.9,824.0 L672.9,777.5 L673.9,723.2 L674.9,685.4 L675.9,670.8 L676.9,679.0 L677.9,701.5 L678.9,725.3 L679.9,729.6 L680.9,723.2 L681.9,729.9 L682.9,758.5 L683.9,789.0 L684.9,768.9 L685.9,749.5 L686.9,755.9 L687.9,789.9 L688.9,861.1 L689.9,873.6 L691.0,850.4 L692.0,815.9 L693.0,824.9 L694.0,835.3 L695.0,805.4 L696.0,737.1 L697.0,711.9 L698.0,707.6 L699.0,707.2 L700.0,691.4 L701.0,667.9 L702.0,651.9 L703.0,647.4 L704.0,652.6 L705.0,674.0 L706.0,706.8 L707.0,747.2 L708.0,804.0 L709.0,883.1 L710.0,925.5 L711.1,890.3 L712.1,844.6 L713.1,841.6 L714.1,846.6 L715.1,818.7 L716.1,739.8 L717.1,715.4 L718.1,723.6 L719.1,770.1 L720.1,813.8 L721.1,752.5 L722.1,704.6 L723.1,693.1 L724.1,695.9 L725.1,718.0 L726.1,774.0 L727.1,814.4 L728.1,783.9 L729.1,737.2 L730.1,714.0 L731.2,704.7 L732.2,702.6 L733.2,705.1 L734.2,714.1 L735.2,733.8 L736.2,767.8 L737.2,814.2 L738.2,832.4 L739.2,833.7 L740.2,843.3 L741.2,868.6 L742.2,873.6 L743.2,869.2 L744.2,831.3 L745.2,818.6 L746.2,838.5 L747.2,895.7 L748.2,967.0 L749.2,1008.3 L750.2,966.0 L751.3,915.2 L752.3,876.0 L753.3,786.9 L754.3,719.2 L755.3,703.1 L756.3,703.4 L757.3,704.0 L758.3,707.2 L759.3,743.5 L760.3,807.6 L761.3,811.8 L762.3,808.9 L763.3,807.8 L764.3,799.4 L765.3,774.8 L766.3,730.9 L767.3,705.1 L768.3,690.4 L769.3,681.3 L770.4,680.6 L771.4,687.3 L772.4,700.1 L773.4,726.3 L774.4,770.8 L775.4,803.1 L776.4,796.5 L777.4,763.3 L778.4,744.5 L779.4,737.9 L780.4,740.5 L781.4,753.7 L782.4,777.3 L783.4,785.8 L784.4,765.6 L785.4,731.3 L786.4,694.9 L787.4,668.7 L788.4,664.6 L789.4,678.5 L790.5,703.4 L791.5,745.9 L792.5,796.9 L793.5,815.5 L794.5,775.2 L795.5,731.9 L796.5,697.8 L797.5,670.2 L798.5,650.7 L799.5,642.4 L800.5,647.5 L801.5,668.2 L802.5,703.9 L803.5,747.2 L804.5,793.8 L805.5,836.1 L806.5,858.7 L807.5,847.5 L808.5,815.8 L809.5,779.6 L810.5,734.5 L811.6,685.3 L812.6,663.1 L813.6,657.6 L814.6,654.8 L815.6,656.8 L816.6,690.8 L817.6,725.6 L818.6,709.7 L819.6,689.0 L820.6,703.0 L821.6,789.2 L822.6,824.5 L823.6,771.8 L824.6,774.2 L825.6,818.7 L826.6,861.2 L827.6,808.0 L828.6,738.9 L829.6,692.2 L830.6,655.3 L831.7,625.3 L832.7,607.8 L833.7,615.6 L834.7,613.5 L835.7,604.5 L836.7,600.4 L837.7,606.7 L838.7,623.0 L839.7,644.9 L840.7,672.1 L841.7,676.9 L842.7,681.1 L843.7,681.7 L844.7,680.6 L845.7,674.9 L846.7,663.5 L847.7,651.3 L848.7,643.0 L849.7,639.7 L850.8,639.2 L851.8,634.2 L852.8,621.4 L853.8,608.0 L854.8,592.9 L855.8,578.2 L856.8,564.6 L857.8,552.6 L858.8,537.8 L859.8,521.8 L860.8,487.9 L861.8,445.7 L862.8,401.0 L863.8,367.6 L864.8,334.1 L865.8,314.8 L866.8,333.9 L867.8,367.3 L868.8,400.5 L869.8,444.8 L870.9,487.1 L871.9,521.6 L872.9,539.2 L873.9,560.9 L874.9,571.7 L875.9,574.9 L876.9,581.6 L877.9,592.0 L878.9,612.9 L879.9,633.2 L880.9,636.4 L881.9,631.6 L882.9,634.5 L883.9,644.2 L884.9,655.2 L885.9,661.7 L886.9,671.2 L887.9,696.1 L888.9,722.6 L889.9,728.4 L891.0,716.6 L892.0,690.6 L893.0,693.1 L894.0,703.2 L895.0,682.9 L896.0,654.2 L897.0,632.4 L898.0,626.4 L899.0,634.3 L900.0,657.5 L901.0,683.4 L902.0,702.7 L903.0,682.6 L904.0,671.4 L905.0,673.9 L906.0,694.1 L907.0,750.0 L908.0,780.4 L909.0,734.0 L910.0,713.5 L911.0,729.7 L912.1,781.5 L913.1,770.8 L914.1,742.9 L915.1,712.4 L916.1,696.5 L917.1,677.2 L918.1,654.5 L919.1,636.2 L920.1,637.6 L921.1,645.9 L922.1,661.8 L923.1,696.9 L924.1,724.1 L925.1,720.6 L926.1,708.9 L927.1,695.2 L928.1,679.5 L929.1,669.7 L930.1,667.1 L931.2,673.3 L932.2,704.3 L933.2,748.0 L934.2,793.0 L935.2,860.8 L936.2,972.8 L937.2,1138.1 L938.2,935.6 L939.2,820.6 L940.2,765.2 L941.2,733.6 L942.2,703.6 L943.2,674.1 L944.2,660.6 L945.2,651.2 L946.2,644.7 L947.2,642.4 L948.2,645.4 L949.2,663.6 L950.2,696.7 L951.2,741.2 L952.3,800.0 L953.3,848.0 L954.3,861.2 L955.3,823.6 L956.3,792.6 L957.3,777.1 L958.3,775.9 L959.3,783.6 L960.3,793.8 L961.3,808.2 L962.3,811.8 L963.3,811.7 L964.3,745.1 L965.3,721.8 L966.3,744.4 L967.3,772.7 L968.3,806.7 L969.3,883.6 L970.3,924.2 L971.4,844.1 L972.4,783.4 L973.4,746.0 L974.4,719.2 L975.4,721.4 L976.4,729.7 L977.4,696.0 L978.4,664.3 L979.4,654.6 L980.4,652.3 L981.4,663.9 L982.4,694.7 L983.4,717.5 L984.4,720.9 L985.4,704.4 L986.4,702.0 L987.4,716.1 L988.4,745.9 L989.4,758.7 L990.4,754.5 L991.5,761.3 L992.5,783.8 L993.5,808.0 L994.5,790.0 L995.5,747.7 L996.5,730.1 L997.5,731.0 L998.5,745.7 L999.5,795.0 L1000.5,881.2 L1001.5,889.6 L1002.5,880.8 L1003.5,857.3 L1004.5,819.5 L1005.5,772.7 L1006.5,725.3 L1007.5,687.5 L1008.5,662.9 L1009.5,647.4 L1010.5,642.4 L1011.6,648.6 L1012.6,666.1 L1013.6,689.0 L1014.6,716.4 L1015.6,744.6 L1016.6,765.2 L1017.6,795.1 L1018.6,810.3 L1019.6,813.9 L1020.6,814.1 L1021.6,810.9 L1022.6,802.2 L1023.6,783.5 L1024.6,755.7 L1025.6,725.4 L1026.6,697.8 L1027.6,675.5 L1028.6,659.2 L1029.6,647.7 L1030.6,641.0 L1031.7,638.1 L1032.7,637.7 L1033.7,641.2 L1034.7,649.6 L1035.7,664.3 L1036.7,686.4 L1037.7,710.7 L1038.7,724.0 L1039.7,730.8 L1040.7,752.3 L1041.7,798.2 L1042.7,779.2 L1043.7,712.0 L1044.7,682.6 L1045.7,679.3 L1046.7,683.4 L1047.7,714.5 L1048.7,782.1 L1049.7,772.8 L1050.7,744.9 L1051.8,755.9 L1052.8,798.8 L1053.8,870.9 L1054.8,888.4 L1055.8,823.4 L1056.8,772.9 L1057.8,743.6 L1058.8,726.2 L1059.8,723.6 L1060.8,734.1 L1061.8,744.3 L1062.8,737.0 L1063.8,726.2 L1064.8,724.7 L1065.8,735.0 L1066.8,756.3 L1067.8,796.8 L1068.8,824.1 L1069.8,779.6 L1070.8,746.3 L1071.8,731.4 L1072.9,717.9 L1073.9,712.3 L1074.9,721.6 L1075.9,710.6 L1076.9,704.3 L1077.9,706.9 L1078.9,715.9 L1079.9,762.6 L1080.9,826.6 L1081.9,809.3 L1082.9,764.0 L1083.9,754.3 L1084.9,768.8 L1085.9,795.1 L1086.9,813.1 L1087.9,824.9 L1088.9,839.9 L1089.9,849.2 L1090.9,854.6 L1092.0,856.2 L1093.0,846.9 L1094.0,826.7 L1095.0,797.8 L1096.0,762.2 L1097.0,732.6 L1098.0,719.3 L1099.0,724.5 L1100.0,736.7 L1101.0,719.0 L1102.0,691.2 L1103.0,665.7 L1104.0,672.6 L1105.0,695.8 L1106.0,728.6 L1107.0,789.6 L1108.0,875.0 L1109.0,908.2 L1110.0,856.0 L1111.0,811.5 L1112.0,806.0 L1113.1,846.5 L1114.1,807.6 L1115.1,719.1 L1116.1,705.9 L1117.1,707.0 L1118.1,709.4 L1119.1,723.7 L1120.1,784.2 L1121.1,815.1 L1122.1,814.1 L1123.1,810.7 L1124.1,802.6 L1125.1,788.0 L1126.1,768.1 L1127.1,746.8 L1128.1,722.6 L1129.1,699.9 L1130.1,688.2 L1131.1,687.8 L1132.1,692.6 L1133.2,700.5 L1134.2,711.7 L1135.2,731.1 L1136.2,755.1 L1137.2,771.3 L1138.2,773.0 L1139.2,763.8 L1140.2,753.1 L1141.2,748.7 L1142.2,754.7 L1143.2,777.5 L1144.2,812.6 L1145.2,826.9 L1146.2,848.1 L1147.2,855.3 L1148.2,870.0 L1149.2,898.3 L1150.2,904.5 L1151.2,863.8 L1152.2,821.4 L1153.3,787.5 L1154.3,760.4 L1155.3,738.2 L1156.3,726.7 L1157.3,729.4 L1158.3,757.6 L1159.3,802.7 L1160.3,832.2 L1161.3,840.2 L1162.3,843.9 L1163.3,845.1 L1164.3,843.9 L1165.3,839.8 L1166.3,823.6 L1167.3,793.0 L1168.3,771.4 L1169.3,769.0 L1170.3,790.8 L1171.3,811.9 L1172.3,799.2 L1173.4,755.1 L1174.4,730.9 L1175.4,725.1 L1176.4,724.6 L1177.4,725.7 L1178.4,727.2 L1179.4,728.8 L1180.4,733.4 L1181.4,743.4 L1182.4,747.6 L1183.4,732.9 L1184.4,721.4 L1185.4,719.5 L1186.4,719.1 L1187.4,719.3 L1188.4,725.6 L1189.4,762.5 L1190.4,800.9 L1191.4,780.0 L1192.5,745.7 L1193.5,729.7 L1194.5,726.9 L1195.5,733.3 L1196.5,753.6 L1197.5,791.0 L1198.5,824.2 L1199.5,841.0 L1200.5,850.0 L1201.5,856.4 L1202.5,890.5 L1203.5,927.8 L1204.5,945.4 L1205.5,957.3 L1206.5,964.9 L1207.5,956.4 L1208.5,919.3 L1209.5,861.2 L1210.5,805.7 L1211.5,759.5 L1212.5,722.7 L1213.6,698.4 L1214.6,688.0 L1215.6,681.7 L1216.6,679.5 L1217.6,682.0 L1218.6,696.5 L1219.6,733.8 L1220.6,757.2 L1221.6,735.8 L1222.6,719.1 L1223.6,718.4 L1224.6,723.8 L1225.6,743.8 L1226.6,780.8 L1227.6,810.4 L1228.6,812.9 L1229.6,804.1 L1230.6,773.8 L1231.6,739.1 L1232.7,720.1 L1233.7,713.6 L1234.7,717.0 L1235.7,730.4 L1236.7,750.5 L1237.7,787.1 L1238.7,839.8 L1239.7,852.5 L1240.7,822.4 L1241.7,788.4 L1242.7,764.1 L1243.7,741.1 L1244.7,697.0 L1245.7,664.3 L1246.7,645.7 L1247.7,638.7 L1248.7,642.8 L1249.7,656.1 L1250.7,676.0 L1251.7,699.0 L1252.8,722.3 L1253.8,744.2 L1254.8,762.9 L1255.8,778.1 L1256.8,793.1 L1257.8,803.2 L1258.8,794.7 L1259.8,771.9 L1260.8,742.7 L1261.8,719.0 L1262.8,701.8 L1263.8,690.7 L1264.8,686.9 L1265.8,692.6 L1266.8,708.4 L1267.8,728.4 L1268.8,749.2 L1269.8,751.1 L1270.8,749.9 L1271.8,761.2 L1272.8,786.1 L1273.9,807.3 L1274.9,813.7 L1275.9,815.4 L1276.9,815.4 L1277.9,773.8 L1278.9,720.9 L1279.9,706.8 L1280.9,706.0 L1281.9,722.0 L1282.9,792.0 L1283.9,803.8 L1284.9,727.4 L1285.9,703.6 L1286.9,702.1 L1287.9,712.8 L1288.9,730.1 L1289.9,714.0 L1290.9,698.0 L1291.9,695.2 L1293.0,696.8 L1294.0,715.2 L1295.0,749.0 L1296.0,748.4 L1297.0,726.6 L1298.0,713.4 L1299.0,704.0 L1300.0,687.5 L1301.0,667.3 L1302.0,665.6 L1303.0,682.9 L1304.0,713.3 L1305.0,764.7 L1306.0,832.6 L1307.0,873.6 L1308.0,840.3 L1309.0,784.8 L1310.0,749.6 L1311.0,731.8 L1312.0,739.1 L1313.0,791.7 L1314.1,815.4 L1315.1,815.4 L1316.1,805.1 L1317.1,805.6 L1318.1,815.1 L1319.1,815.3 L1320.1,786.8 L1321.1,742.0 L1322.1,718.9 L1323.1,711.9 L1324.1,717.1 L1325.1,736.0 L1326.1,763.0 L1327.1,751.6 L1328.1,721.8 L1329.1,687.5 L1330.1,669.5 L1331.1,665.6 L1332.1,672.4 L1333.2,693.9 L1334.2,711.5 L1335.2,696.3 L1336.2,681.0 L1337.2,678.9 L1338.2,679.5 L1339.2,697.6 L1340.2,732.7 L1341.2,721.1 L1342.2,701.7 L1343.2,705.4 L1344.2,707.8 L1345.2,718.7 L1346.2,738.4 L1347.2,760.4 L1348.2,781.0 L1349.2,804.0 L1350.2,824.1 L1351.2,802.0 L1352.2,764.2 L1353.2,727.3 L1354.3,702.6 L1355.3,691.4 L1356.3,694.7 L1357.3,712.4 L1358.3,735.2 L1359.3,765.5 L1360.3,781.9 L1361.3,743.5 L1362.3,716.9 L1363.3,713.7 L1364.3,721.9 L1365.3,748.2 L1366.3,741.8 L1367.3,714.4 L1368.3,708.5 L1369.3,704.8 L1370.3,711.2 L1371.3,729.9 L1372.3,699.2 L1373.3,685.7 L1374.4,687.7 L1375.4,693.0 L1376.4,712.3 L1377.4,742.6 L1378.4,777.4 L1379.4,855.9 L1380.4,992.5 L1381.4,1138.1 L1382.4,977.0 L1383.4,884.0 L1384.4,812.2 L1385.4,755.5 L1386.4,722.9 L1387.4,714.2 L1388.4,738.3 L1389.4,739.1 L1390.4,694.4 L1391.4,673.9 L1392.4,667.1 L1393.5,664.7 L1394.5,672.0 L1395.5,708.1 L1396.5,733.2 L1397.5,749.0 L1398.5,748.3 L1399.5,771.7 L1400.5,808.8 L1401.5,813.5 L1402.5,811.1 L1403.5,786.7 L1404.5,790.9 L1405.5,820.8 L1406.5,841.5 L1407.5,842.7 L1408.5,840.7 L1409.5,801.3 L1410.5,767.5 L1411.5,750.5 L1412.5,747.7 L1413.6,763.0 L1414.6,800.0 L1415.6,812.7 L1416.6,806.5 L1417.6,784.9 L1418.6,741.7 L1419.6,709.4 L1420.6,684.8 L1421.6,666.5 L1422.6,655.1 L1423.6,651.1 L1424.6,654.0 L1425.6,665.6 L1426.6,689.4 L1427.6,721.6 L1428.6,749.4 L1429.6,761.0 L1430.6,755.6 L1431.6,730.6 L1432.6,699.7 L1433.7,693.2 L1434.7,704.3 L1435.7,719.2 L1436.7,748.2 L1437.7,803.5 L1438.7,834.0 L1439.7,801.8 L1440.7,773.7 L1441.7,760.7 L1442.7,752.2 L1443.7,735.4 L1444.7,719.0 L1445.7,716.7 L1446.7,724.5 L1447.7,737.1 L1448.7,744.3 L1449.7,746.0 L1450.7,753.2 L1451.7,773.6 L1452.7,804.6 L1453.8,815.2 L1454.8,815.4 L1455.8,814.2 L1456.8,781.6 L1457.8,752.3 L1458.8,748.2 L1459.8,766.3 L1460.8,814.1 L1461.8,861.5 L1462.8,863.7 L1463.8,809.7 L1464.8,773.0 L1465.8,761.4 L1466.8,768.0 L1467.8,777.0 L1468.8,747.9 L1469.8,716.3 L1470.8,688.8 L1471.8,667.8 L1472.8,654.4 L1473.8,649.8 L1474.9,654.6 L1475.9,668.2 L1476.9,688.9 L1477.9,716.3 L1478.9,747.9 L1479.9,776.6 L1480.9,785.9 L1481.9,781.6 L1482.9,780.3 L1483.9,789.3 L1484.9,806.2 L1485.9,825.4 L1486.9,845.1 L1487.9,857.2 L1488.9,884.7 L1489.9,951.4 L1490.9,1138.1 L1491.9,939.9 L1492.9,845.8 L1493.9,776.8 L1495.0,723.3 L1496.0,684.5 L1497.0,667.1 L1498.0,672.1 L1499.0,687.8 L1500.0,713.1 L1501.0,739.8 L1502.0,767.0 L1503.0,785.5 L1504.0,781.1 L1505.0,769.2 L1506.0,756.1 L1507.0,740.9 L1508.0,724.7 L1509.0,711.9 L1510.0,706.6 L1511.0,709.0 L1512.0,724.2 L1513.0,757.4 L1514.0,798.1 L1515.1,802.4 L1516.1,789.2 L1517.1,792.2 L1518.1,817.5 L1519.1,836.5 L1520.1,826.9 L1521.1,805.4 L1522.1,773.6 L1523.1,738.1 L1524.1,704.9 L1525.1,680.5 L1526.1,667.7 L1527.1,663.4 L1528.1,667.5 L1529.1,677.6 L1530.1,688.5 L1531.1,696.1 L1532.1,699.9 L1533.1,711.0 L1534.2,730.1 L1535.2,758.0 L1536.2,807.5 L1537.2,876.7 L1538.2,881.0 L1539.2,809.3 L1540.2,759.1 L1541.2,737.6 L1542.2,722.7 L1543.2,712.9 L1544.2,719.2 L1545.2,730.0 L1546.2,722.0 L1547.2,709.6 L1548.2,704.1 L1549.2,704.0 L1550.2,710.1 L1551.2,726.6 L1552.2,734.8 L1553.2,711.5 L1554.2,681.7 L1555.3,670.6 L1556.3,668.4 L1557.3,670.7 L1558.3,677.3 L1559.3,698.7 L1560.3,748.7 L1561.3,781.4 L1562.3,783.3 L1563.3,770.8 L1564.3,787.3 L1565.3,813.9 L1566.3,806.9 L1567.3,749.3 L1568.3,718.6 L1569.3,712.4 L1570.3,716.5 L1571.3,737.7 L1572.3,781.4 L1573.3,813.9 L1574.3,815.0 L1575.4,814.9 L1576.4,815.4 L1577.4,815.5 L1578.4,815.4 L1579.4,812.8 L1580.4,787.8 L1581.4,763.6 L1582.4,750.1 L1583.4,745.8 L1584.4,747.0 L1585.4,742.9 L1586.4,725.7 L1587.4,704.1 L1588.4,688.8 L1589.4,684.4 L1590.4,692.0 L1591.4,710.4 L1592.4,728.9 L1593.4,724.4 L1594.5,712.1 L1595.5,714.0 L1596.5,716.0 L1597.5,717.5 L1598.5,732.4 L1599.5,769.3 L1600.5,756.4 L1601.5,719.7 L1602.5,698.3 L1603.5,689.6 L1604.5,686.9" fill="none" stroke="#D95319" stroke-width="10" stroke-linejoin="round" stroke-linecap="round"/>
<path d="M197.5,709.7 L198.5,714.0 L199.5,753.2 L200.5,845.6 L201.5,806.6 L202.5,771.0 L203.5,781.2 L204.5,818.8 L205.5,904.5 L206.5,873.0 L207.5,791.5 L208.6,760.7 L209.6,760.6 L210.6,840.4 L211.6,803.2 L212.6,707.8 L213.6,690.4 L214.6,684.4 L215.6,690.6 L216.6,726.0 L217.6,817.2 L218.6,837.9 L219.6,840.0 L220.6,838.5 L221.6,786.5 L222.6,736.4 L223.6,715.7 L224.6,714.4 L225.6,729.9 L226.6,763.9 L227.6,780.3 L228.7,755.8 L229.7,733.0 L230.7,731.4 L231.7,745.5 L232.7,768.9 L233.7,805.2 L234.7,860.3 L235.7,894.6 L236.7,839.4 L237.7,783.2 L238.7,749.2 L239.7,731.2 L240.7,725.8 L241.7,743.1 L242.7,789.6 L243.7,839.8 L244.7,840.2 L245.7,839.8 L246.7,822.8 L247.8,802.4 L248.8,790.1 L249.8,768.7 L250.8,725.1 L251.8,684.7 L252.8,667.1 L253.8,674.7 L254.8,699.4 L255.8,728.1 L256.8,756.3 L257.8,778.8 L258.8,782.1 L259.8,773.4 L260.8,756.5 L261.8,722.9 L262.8,706.7 L263.8,719.1 L264.8,743.9 L265.8,773.6 L266.8,797.6 L267.9,855.0 L268.9,923.1 L269.9,815.6 L270.9,764.6 L271.9,743.6 L272.9,729.8 L273.9,744.1 L274.9,749.8 L275.9,726.5 L276.9,718.4 L277.9,722.5 L278.9,754.8 L279.9,835.9 L280.9,840.2 L281.9,818.4 L282.9,793.4 L283.9,805.4 L284.9,832.7 L285.9,835.5 L286.9,819.0 L288.0,807.7 L289.0,809.4 L290.0,819.5 L291.0,828.1 L292.0,841.5 L293.0,869.2 L294.0,901.0 L295.0,902.0 L296.0,860.8 L297.0,810.1 L298.0,770.6 L299.0,742.6 L300.0,721.2 L301.0,711.2 L302.0,717.4 L303.0,742.3 L304.0,810.1 L305.0,836.1 L306.0,735.4 L307.0,704.0 L308.0,702.8 L309.1,702.5 L310.1,702.1 L311.1,702.0 L312.1,704.6 L313.1,713.6 L314.1,705.8 L315.1,701.2 L316.1,700.4 L317.1,700.4 L318.1,707.3 L319.1,762.8 L320.1,839.9 L321.1,785.7 L322.1,716.0 L323.1,690.2 L324.1,674.5 L325.1,670.8 L326.1,693.6 L327.1,746.0 L328.1,812.0 L329.2,836.3 L330.2,839.9 L331.2,809.2 L332.2,752.2 L333.2,720.1 L334.2,711.3 L335.2,714.0 L336.2,743.2 L337.2,813.6 L338.2,894.1 L339.2,897.9 L340.2,906.8 L341.2,927.9 L342.2,883.4 L343.2,829.5 L344.2,789.2 L345.2,759.6 L346.2,731.5 L347.2,708.6 L348.2,703.0 L349.3,723.5 L350.3,793.1 L351.3,849.1 L352.3,866.2 L353.3,862.8 L354.3,871.1 L355.3,866.4 L356.3,799.1 L357.3,748.3 L358.3,728.8 L359.3,718.5 L360.3,717.9 L361.3,753.8 L362.3,836.3 L363.3,840.1 L364.3,795.3 L365.3,770.7 L366.3,784.0 L367.3,832.4 L368.4,811.2 L369.4,749.3 L370.4,697.0 L371.4,677.0 L372.4,681.4 L373.4,696.2 L374.4,705.2 L375.4,707.4 L376.4,709.1 L377.4,718.9 L378.4,762.3 L379.4,840.0 L380.4,838.9 L381.4,774.3 L382.4,750.0 L383.4,755.3 L384.4,781.1 L385.4,801.3 L386.4,784.8 L387.4,766.5 L388.4,768.0 L389.5,795.0 L390.5,838.8 L391.5,840.2 L392.5,840.8 L393.5,825.5 L394.5,832.1 L395.5,855.9 L396.5,862.8 L397.5,834.0 L398.5,788.4 L399.5,761.4 L400.5,750.3 L401.5,751.3 L402.5,766.9 L403.5,794.7 L404.5,809.0 L405.5,797.9 L406.5,791.8 L407.5,803.5 L408.6,826.9 L409.6,827.1 L410.6,786.8 L411.6,740.9 L412.6,708.7 L413.6,698.0 L414.6,712.1 L415.6,744.7 L416.6,764.9 L417.6,749.2 L418.6,729.5 L419.6,721.8 L420.6,721.2 L421.6,728.0 L422.6,747.5 L423.6,764.5 L424.6,738.3 L425.6,698.8 L426.6,683.2 L427.6,698.0 L428.6,741.0 L429.7,799.6 L430.7,833.8 L431.7,838.5 L432.7,831.9 L433.7,804.7 L434.7,763.2 L435.7,727.1 L436.7,712.3 L437.7,710.5 L438.7,712.2 L439.7,730.3 L440.7,797.5 L441.7,847.0 L442.7,841.5 L443.7,879.6 L444.7,1002.5 L445.7,1138.1 L446.7,932.3 L447.7,821.6 L448.8,777.3 L449.8,747.0 L450.8,738.7 L451.8,803.7 L452.8,897.4 L453.8,922.4 L454.8,940.8 L455.8,974.9 L456.8,930.8 L457.8,819.2 L458.8,762.0 L459.8,724.2 L460.8,699.2 L461.8,717.8 L462.8,781.4 L463.8,820.8 L464.8,784.2 L465.8,773.0 L466.8,778.5 L467.8,763.7 L468.8,736.1 L469.9,722.4 L470.9,725.5 L471.9,750.5 L472.9,806.2 L473.9,840.2 L474.9,839.9 L475.9,825.0 L476.9,790.6 L477.9,749.8 L478.9,715.9 L479.9,700.0 L480.9,696.0 L481.9,696.4 L482.9,708.1 L483.9,747.6 L484.9,821.8 L485.9,835.9 L486.9,782.6 L487.9,758.3 L489.0,766.7 L490.0,815.8 L491.0,840.2 L492.0,801.8 L493.0,740.0 L494.0,716.1 L495.0,714.7 L496.0,734.2 L497.0,784.6 L498.0,848.8 L499.0,831.5 L500.0,744.7 L501.0,690.7 L502.0,654.4 L503.0,640.5 L504.0,654.2 L505.0,696.9 L506.0,768.1 L507.0,830.3 L508.0,784.9 L509.1,728.3 L510.1,701.4 L511.1,694.6 L512.1,704.2 L513.1,732.0 L514.1,773.7 L515.1,783.4 L516.1,749.6 L517.1,722.7 L518.1,708.8 L519.1,704.3 L520.1,707.1 L521.1,719.6 L522.1,747.9 L523.1,801.8 L524.1,839.8 L525.1,840.3 L526.1,833.3 L527.1,869.3 L528.1,905.0 L529.1,920.2 L530.2,855.0 L531.2,808.4 L532.2,779.2 L533.2,761.9 L534.2,753.1 L535.2,747.0 L536.2,746.3 L537.2,752.4 L538.2,741.3 L539.2,712.8 L540.2,705.4 L541.2,715.0 L542.2,731.9 L543.2,749.7 L544.2,772.1 L545.2,839.9 L546.2,850.1 L547.2,798.7 L548.2,769.9 L549.2,745.6 L550.3,719.1 L551.3,697.0 L552.3,690.6 L553.3,701.9 L554.3,738.5 L555.3,813.9 L556.3,770.6 L557.3,699.2 L558.3,670.4 L559.3,663.4 L560.3,670.1 L561.3,684.0 L562.3,698.4 L563.3,723.1 L564.3,761.8 L565.3,796.4 L566.3,786.9 L567.3,767.8 L568.3,772.4 L569.4,816.4 L570.4,840.2 L571.4,806.7 L572.4,739.7 L573.4,714.3 L574.4,710.8 L575.4,719.2 L576.4,748.0 L577.4,803.6 L578.4,840.2 L579.4,840.2 L580.4,839.9 L581.4,835.2 L582.4,806.1 L583.4,750.8 L584.4,704.0 L585.4,685.7 L586.4,700.8 L587.4,750.6 L588.4,806.1 L589.5,743.9 L590.5,706.3 L591.5,705.1 L592.5,704.4 L593.5,703.8 L594.5,710.9 L595.5,723.5 L596.5,739.1 L597.5,778.6 L598.5,811.4 L599.5,830.3 L600.5,860.5 L601.5,884.2 L602.5,863.6 L603.5,827.2 L604.5,822.9 L605.5,855.9 L606.5,921.7 L607.5,931.6 L608.5,906.6 L609.5,856.4 L610.6,827.1 L611.6,797.8 L612.6,753.4 L613.6,715.1 L614.6,699.3 L615.6,694.3 L616.6,693.3 L617.6,687.5 L618.6,674.3 L619.6,646.9 L620.6,649.6 L621.6,653.3 L622.6,658.3 L623.6,693.8 L624.6,689.6 L625.6,662.7 L626.6,648.1 L627.6,634.8 L628.6,633.1 L629.7,643.2 L630.7,660.4 L631.7,679.0 L632.7,700.3 L633.7,715.4 L634.7,699.8 L635.7,673.9 L636.7,663.7 L637.7,655.9 L638.7,652.6 L639.7,652.3 L640.7,647.3 L641.7,642.3 L642.7,640.3 L643.7,636.2 L644.7,623.8 L645.7,616.7 L646.7,611.3 L647.7,606.3 L648.7,600.7 L649.8,615.8 L650.8,626.0 L651.8,611.5 L652.8,595.6 L653.8,584.9 L654.8,552.6 L655.8,515.4 L656.8,489.5 L657.8,480.5 L658.8,490.5 L659.8,515.9 L660.8,544.6 L661.8,562.9 L662.8,567.2 L663.8,569.0 L664.8,568.1 L665.8,560.9 L666.8,524.6 L667.8,505.3 L668.8,505.5 L669.8,515.8 L670.9,538.9 L671.9,538.1 L672.9,506.3 L673.9,506.2 L674.9,505.9 L675.9,505.5 L676.9,506.1 L677.9,507.2 L678.9,508.5 L679.9,529.6 L680.9,534.5 L681.9,511.4 L682.9,512.1 L683.9,517.4 L684.9,523.0 L685.9,538.8 L686.9,582.8 L687.9,632.0 L688.9,675.7 L689.9,735.3 L691.0,780.9 L692.0,772.7 L693.0,698.5 L694.0,676.2 L695.0,659.7 L696.0,646.8 L697.0,661.2 L698.0,688.4 L699.0,700.2 L700.0,719.0 L701.0,756.6 L702.0,806.2 L703.0,851.3 L704.0,843.9 L705.0,813.6 L706.0,772.8 L707.0,710.4 L708.0,655.3 L709.0,632.5 L710.0,648.5 L711.1,694.6 L712.1,761.0 L713.1,806.0 L714.1,806.0 L715.1,797.6 L716.1,788.9 L717.1,772.7 L718.1,745.2 L719.1,704.9 L720.1,656.6 L721.1,618.9 L722.1,605.3 L723.1,620.5 L724.1,664.6 L725.1,736.5 L726.1,797.5 L727.1,760.7 L728.1,732.6 L729.1,729.4 L730.1,740.4 L731.2,744.4 L732.2,733.0 L733.2,727.7 L734.2,745.8 L735.2,807.2 L736.2,839.6 L737.2,787.6 L738.2,747.9 L739.2,754.6 L740.2,812.1 L741.2,817.0 L742.2,728.7 L743.2,687.7 L744.2,676.4 L745.2,684.3 L746.2,696.3 L747.2,681.7 L748.2,660.7 L749.2,658.0 L750.2,658.9 L751.3,661.1 L752.3,678.2 L753.3,741.4 L754.3,817.3 L755.3,766.6 L756.3,735.8 L757.3,738.2 L758.3,770.2 L759.3,847.0 L760.3,873.0 L761.3,875.0 L762.3,856.3 L763.3,877.2 L764.3,906.9 L765.3,844.0 L766.3,784.7 L767.3,745.3 L768.3,716.8 L769.3,694.7 L770.4,685.0 L771.4,692.0 L772.4,717.0 L773.4,775.4 L774.4,835.5 L775.4,814.9 L776.4,758.4 L777.4,735.7 L778.4,727.1 L779.4,724.0 L780.4,728.6 L781.4,752.2 L782.4,815.0 L783.4,817.2 L784.4,727.5 L785.4,693.4 L786.4,683.5 L787.4,679.5 L788.4,690.8 L789.4,746.7 L790.5,815.9 L791.5,819.6 L792.5,804.1 L793.5,814.2 L794.5,778.6 L795.5,725.8 L796.5,706.7 L797.5,704.6 L798.5,704.3 L799.5,704.3 L800.5,704.4 L801.5,705.6 L802.5,717.0 L803.5,749.7 L804.5,735.9 L805.5,706.3 L806.5,703.6 L807.5,703.5 L808.5,704.4 L809.5,723.4 L810.5,792.0 L811.6,822.4 L812.6,821.9 L813.6,797.1 L814.6,746.6 L815.6,717.2 L816.6,706.9 L817.6,704.2 L818.6,703.1 L819.6,702.7 L820.6,702.6 L821.6,702.7 L822.6,706.3 L823.6,762.4 L824.6,815.9 L825.6,815.1 L826.6,813.4 L827.6,814.4 L828.6,771.6 L829.6,705.2 L830.6,702.0 L831.7,701.9 L832.7,701.8 L833.7,702.2 L834.7,703.3 L835.7,702.5 L836.7,702.0 L837.7,703.1 L838.7,726.7 L839.7,808.4 L840.7,808.5 L841.7,725.5 L842.7,714.1 L843.7,717.5 L844.7,712.6 L845.7,703.6 L846.7,693.6 L847.7,684.8 L848.7,643.0 L849.7,639.7 L850.8,639.2 L851.8,634.2 L852.8,621.4 L853.8,608.0 L854.8,592.9 L855.8,578.2 L856.8,564.6 L857.8,552.6 L858.8,537.8 L859.8,521.8 L860.8,487.9 L861.8,445.7 L862.8,401.0 L863.8,367.6 L864.8,334.1 L865.8,314.8 L866.8,333.9 L867.8,367.3 L868.8,400.5 L869.8,444.8 L870.9,487.1 L871.9,521.6 L872.9,539.2 L873.9,560.9 L874.9,571.7 L875.9,574.9 L876.9,581.6 L877.9,592.0 L878.9,612.9 L879.9,633.2 L880.9,636.4 L881.9,631.6 L882.9,634.5 L883.9,684.7 L884.9,686.4 L885.9,694.7 L886.9,711.1 L887.9,730.4 L888.9,753.1 L889.9,774.8 L891.0,799.4 L892.0,790.6 L893.0,771.2 L894.0,757.4 L895.0,790.9 L896.0,820.7 L897.0,784.0 L898.0,738.9 L899.0,730.4 L900.0,740.5 L901.0,743.6 L902.0,725.8 L903.0,712.8 L904.0,716.5 L905.0,748.1 L906.0,814.8 L907.0,815.9 L908.0,771.0 L909.0,731.2 L910.0,719.1 L911.0,720.0 L912.1,728.9 L913.1,745.9 L914.1,776.1 L915.1,817.9 L916.1,818.3 L917.1,801.0 L918.1,728.0 L919.1,683.0 L920.1,672.1 L921.1,678.5 L922.1,691.2 L923.1,703.4 L924.1,723.1 L925.1,793.2 L926.1,842.0 L927.1,844.6 L928.1,843.9 L929.1,827.3 L930.1,752.1 L931.2,708.7 L932.2,694.5 L933.2,703.0 L934.2,742.2 L935.2,769.0 L936.2,744.4 L937.2,736.8 L938.2,767.2 L939.2,814.6 L940.2,739.7 L941.2,696.4 L942.2,694.2 L943.2,698.0 L944.2,712.2 L945.2,753.7 L946.2,826.6 L947.2,902.0 L948.2,917.0 L949.2,844.3 L950.2,765.6 L951.2,723.6 L952.3,704.0 L953.3,696.0 L954.3,715.8 L955.3,787.3 L956.3,776.6 L957.3,710.2 L958.3,695.5 L959.3,707.0 L960.3,731.7 L961.3,765.8 L962.3,803.8 L963.3,826.6 L964.3,813.1 L965.3,779.8 L966.3,751.9 L967.3,730.9 L968.3,713.0 L969.3,702.0 L970.3,699.7 L971.4,698.2 L972.4,697.8 L973.4,703.9 L974.4,740.3 L975.4,816.9 L976.4,830.6 L977.4,788.4 L978.4,722.6 L979.4,678.0 L980.4,662.2 L981.4,677.8 L982.4,724.7 L983.4,791.0 L984.4,830.8 L985.4,818.7 L986.4,803.8 L987.4,821.6 L988.4,839.1 L989.4,839.1 L990.4,824.3 L991.5,803.6 L992.5,772.1 L993.5,720.2 L994.5,677.3 L995.5,657.4 L996.5,651.1 L997.5,658.8 L998.5,687.0 L999.5,761.3 L1000.5,826.2 L1001.5,756.5 L1002.5,727.2 L1003.5,732.2 L1004.5,769.2 L1005.5,837.9 L1006.5,839.9 L1007.5,829.4 L1008.5,819.2 L1009.5,825.0 L1010.5,799.6 L1011.6,751.8 L1012.6,713.2 L1013.6,688.2 L1014.6,679.5 L1015.6,688.1 L1016.6,710.6 L1017.6,744.2 L1018.6,796.3 L1019.6,839.9 L1020.6,840.1 L1021.6,805.5 L1022.6,762.7 L1023.6,741.9 L1024.6,733.9 L1025.6,735.7 L1026.6,747.1 L1027.6,767.1 L1028.6,788.2 L1029.6,793.7 L1030.6,783.8 L1031.7,773.0 L1032.7,754.9 L1033.7,715.1 L1034.7,677.2 L1035.7,663.7 L1036.7,680.5 L1037.7,728.7 L1038.7,796.1 L1039.7,816.7 L1040.7,762.2 L1041.7,728.8 L1042.7,714.4 L1043.7,714.6 L1044.7,728.2 L1045.7,756.6 L1046.7,801.6 L1047.7,839.2 L1048.7,840.2 L1049.7,840.0 L1050.7,839.1 L1051.8,826.9 L1052.8,763.5 L1053.8,707.1 L1054.8,686.4 L1055.8,701.7 L1056.8,759.9 L1057.8,873.8 L1058.8,1138.1 L1059.8,909.9 L1060.8,811.1 L1061.8,739.6 L1062.8,677.8 L1063.8,653.8 L1064.8,641.0 L1065.8,638.5 L1066.8,634.2 L1067.8,629.6 L1068.8,626.3 L1069.8,625.1 L1070.8,625.3 L1071.8,623.8 L1072.9,621.0 L1073.9,616.7 L1074.9,609.9 L1075.9,605.8 L1076.9,602.5 L1077.9,599.4 L1078.9,613.3 L1079.9,630.1 L1080.9,609.9 L1081.9,592.6 L1082.9,595.3 L1083.9,596.8 L1084.9,619.5 L1085.9,640.8 L1086.9,633.7 L1087.9,615.2 L1088.9,600.4 L1089.9,583.8 L1090.9,570.3 L1092.0,567.7 L1093.0,566.8 L1094.0,566.0 L1095.0,563.5 L1096.0,560.2 L1097.0,556.6 L1098.0,556.7 L1099.0,552.2 L1100.0,549.9 L1101.0,546.6 L1102.0,542.8 L1103.0,539.6 L1104.0,537.2 L1105.0,593.7 L1106.0,596.2 L1107.0,575.9 L1108.0,540.0 L1109.0,531.4 L1110.0,531.7 L1111.0,521.2 L1112.0,518.5 L1113.1,513.5 L1114.1,508.6 L1115.1,518.0 L1116.1,563.1 L1117.1,542.0 L1118.1,489.0 L1119.1,484.0 L1120.1,492.1 L1121.1,500.3 L1122.1,558.3 L1123.1,580.1 L1124.1,561.0 L1125.1,547.6 L1126.1,561.6 L1127.1,602.2 L1128.1,613.0 L1129.1,619.5 L1130.1,625.0 L1131.1,623.2 L1132.1,609.3 L1133.2,593.7 L1134.2,589.6 L1135.2,590.4 L1136.2,594.2 L1137.2,621.9 L1138.2,656.8 L1139.2,664.3 L1140.2,641.3 L1141.2,633.4 L1142.2,637.4 L1143.2,645.5 L1144.2,653.4 L1145.2,655.1 L1146.2,653.3 L1147.2,656.6 L1148.2,692.3 L1149.2,730.4 L1150.2,722.5 L1151.2,692.5 L1152.2,683.5 L1153.3,695.3 L1154.3,747.7 L1155.3,801.9 L1156.3,716.6 L1157.3,664.6 L1158.3,651.4 L1159.3,668.6 L1160.3,727.0 L1161.3,787.2 L1162.3,716.4 L1163.3,689.4 L1164.3,690.5 L1165.3,696.1 L1166.3,730.0 L1167.3,805.0 L1168.3,774.8 L1169.3,729.9 L1170.3,721.0 L1171.3,733.8 L1172.3,772.9 L1173.4,826.2 L1174.4,818.0 L1175.4,768.5 L1176.4,726.7 L1177.4,702.9 L1178.4,707.6 L1179.4,735.8 L1180.4,779.2 L1181.4,868.1 L1182.4,963.5 L1183.4,974.9 L1184.4,883.3 L1185.4,818.2 L1186.4,776.1 L1187.4,745.6 L1188.4,727.1 L1189.4,723.8 L1190.4,712.4 L1191.4,697.6 L1192.5,682.6 L1193.5,677.0 L1194.5,700.0 L1195.5,751.5 L1196.5,818.5 L1197.5,880.5 L1198.5,892.6 L1199.5,895.8 L1200.5,876.4 L1201.5,844.7 L1202.5,831.5 L1203.5,826.6 L1204.5,799.4 L1205.5,751.5 L1206.5,719.1 L1207.5,709.2 L1208.5,725.5 L1209.5,774.4 L1210.5,809.5 L1211.5,749.5 L1212.5,733.3 L1213.6,732.9 L1214.6,732.7 L1215.6,732.5 L1216.6,732.3 L1217.6,732.2 L1218.6,733.2 L1219.6,741.8 L1220.6,768.9 L1221.6,801.7 L1222.6,835.7 L1223.6,877.6 L1224.6,922.1 L1225.6,931.6 L1226.6,924.3 L1227.6,898.3 L1228.6,832.5 L1229.6,773.4 L1230.6,726.0 L1231.6,705.5 L1232.7,717.5 L1233.7,744.8 L1234.7,768.2 L1235.7,783.4 L1236.7,805.0 L1237.7,836.1 L1238.7,840.2 L1239.7,839.9 L1240.7,834.9 L1241.7,804.8 L1242.7,748.5 L1243.7,701.2 L1244.7,680.7 L1245.7,686.2 L1246.7,703.0 L1247.7,724.0 L1248.7,747.6 L1249.7,772.3 L1250.7,799.6 L1251.7,825.8 L1252.8,838.9 L1253.8,829.2 L1254.8,823.9 L1255.8,875.9 L1256.8,843.4 L1257.8,776.9 L1258.8,752.9 L1259.8,754.9 L1260.8,746.3 L1261.8,724.4 L1262.8,717.8 L1263.8,723.8 L1264.8,734.9 L1265.8,742.4 L1266.8,804.1 L1267.8,840.1 L1268.8,783.5 L1269.8,751.9 L1270.8,767.4 L1271.8,794.8 L1272.8,848.2 L1273.9,942.7 L1274.9,989.7 L1275.9,968.4 L1276.9,897.0 L1277.9,827.2 L1278.9,781.3 L1279.9,752.2 L1280.9,741.9 L1281.9,747.3 L1282.9,752.5 L1283.9,760.1 L1284.9,781.5 L1285.9,832.6 L1286.9,836.0 L1287.9,782.6 L1288.9,717.8 L1289.9,683.8 L1290.9,674.6 L1291.9,690.3 L1293.0,719.9 L1294.0,725.3 L1295.0,712.3 L1296.0,709.7 L1297.0,722.2 L1298.0,763.0 L1299.0,772.5 L1300.0,722.9 L1301.0,712.2 L1302.0,715.4 L1303.0,721.9 L1304.0,781.6 L1305.0,855.0 L1306.0,740.7 L1307.0,719.8 L1308.0,717.3 L1309.0,714.5 L1310.0,722.9 L1311.0,818.1 L1312.0,839.8 L1313.0,793.4 L1314.1,812.2 L1315.1,823.3 L1316.1,744.6 L1317.1,693.1 L1318.1,686.9 L1319.1,692.7 L1320.1,704.0 L1321.1,734.5 L1322.1,795.9 L1323.1,742.1 L1324.1,717.6 L1325.1,718.4 L1326.1,729.3 L1327.1,771.0 L1328.1,843.7 L1329.1,848.8 L1330.1,848.5 L1331.1,832.7 L1332.1,813.4 L1333.2,807.4 L1334.2,778.0 L1335.2,729.1 L1336.2,712.0 L1337.2,711.0 L1338.2,711.1 L1339.2,718.2 L1340.2,795.9 L1341.2,779.0 L1342.2,711.9 L1343.2,695.4 L1344.2,708.4 L1345.2,756.1 L1346.2,821.6 L1347.2,795.6 L1348.2,769.2 L1349.2,763.2 L1350.2,733.7 L1351.2,709.3 L1352.2,705.3 L1353.2,704.5 L1354.3,713.5 L1355.3,732.1 L1356.3,807.2 L1357.3,906.2 L1358.3,920.2 L1359.3,899.5 L1360.3,845.9 L1361.3,771.8 L1362.3,725.6 L1363.3,699.3 L1364.3,689.5 L1365.3,715.6 L1366.3,747.7 L1367.3,717.4 L1368.3,704.7 L1369.3,710.0 L1370.3,757.4 L1371.3,834.3 L1372.3,742.7 L1373.3,707.0 L1374.4,705.6 L1375.4,715.2 L1376.4,745.7 L1377.4,803.6 L1378.4,847.7 L1379.4,870.8 L1380.4,892.1 L1381.4,883.4 L1382.4,827.7 L1383.4,788.9 L1384.4,775.0 L1385.4,785.7 L1386.4,822.6 L1387.4,838.1 L1388.4,831.8 L1389.4,828.6 L1390.4,837.5 L1391.4,840.0 L1392.4,839.8 L1393.5,835.5 L1394.5,809.8 L1395.5,757.5 L1396.5,713.0 L1397.5,694.3 L1398.5,698.7 L1399.5,708.6 L1400.5,714.6 L1401.5,716.6 L1402.5,718.8 L1403.5,742.9 L1404.5,804.7 L1405.5,777.3 L1406.5,726.5 L1407.5,716.1 L1408.5,716.9 L1409.5,742.0 L1410.5,820.8 L1411.5,862.6 L1412.5,868.8 L1413.6,868.8 L1414.6,874.8 L1415.6,852.4 L1416.6,784.9 L1417.6,747.9 L1418.6,734.5 L1419.6,739.9 L1420.6,787.5 L1421.6,840.2 L1422.6,801.5 L1423.6,738.5 L1424.6,717.5 L1425.6,715.5 L1426.6,726.0 L1427.6,748.3 L1428.6,747.7 L1429.6,713.6 L1430.6,687.7 L1431.6,679.5 L1432.6,687.4 L1433.7,717.1 L1434.7,773.8 L1435.7,793.4 L1436.7,741.3 L1437.7,709.8 L1438.7,703.7 L1439.7,702.8 L1440.7,702.8 L1441.7,705.9 L1442.7,727.9 L1443.7,776.3 L1444.7,804.4 L1445.7,801.2 L1446.7,813.1 L1447.7,861.8 L1448.7,889.6 L1449.7,858.9 L1450.7,781.3 L1451.7,743.2 L1452.7,725.0 L1453.8,715.2 L1454.8,718.2 L1455.8,738.0 L1456.8,771.0 L1457.8,821.2 L1458.8,837.9 L1459.8,817.2 L1460.8,802.1 L1461.8,800.2 L1462.8,747.9 L1463.8,698.1 L1464.8,670.8 L1465.8,672.0 L1466.8,691.6 L1467.8,720.7 L1468.8,754.3 L1469.8,750.6 L1470.8,723.0 L1471.8,710.8 L1472.8,711.0 L1473.8,717.9 L1474.9,723.6 L1475.9,721.0 L1476.9,723.0 L1477.9,734.7 L1478.9,757.7 L1479.9,800.2 L1480.9,869.2 L1481.9,873.6 L1482.9,803.7 L1483.9,754.7 L1484.9,736.4 L1485.9,731.4 L1486.9,747.2 L1487.9,794.0 L1488.9,796.0 L1489.9,757.0 L1490.9,746.4 L1491.9,768.5 L1492.9,819.7 L1493.9,795.5 L1495.0,732.8 L1496.0,698.5 L1497.0,688.2 L1498.0,696.0 L1499.0,708.1 L1500.0,714.4 L1501.0,726.6 L1502.0,747.6 L1503.0,780.3 L1504.0,831.6 L1505.0,877.4 L1506.0,888.4 L1507.0,854.7 L1508.0,803.3 L1509.0,766.7 L1510.0,737.4 L1511.0,708.6 L1512.0,693.1 L1513.0,696.3 L1514.0,701.8 L1515.1,703.9 L1516.1,704.5 L1517.1,720.5 L1518.1,787.3 L1519.1,840.2 L1520.1,792.4 L1521.1,746.2 L1522.1,736.2 L1523.1,749.3 L1524.1,783.7 L1525.1,835.4 L1526.1,840.2 L1527.1,836.1 L1528.1,801.8 L1529.1,785.5 L1530.1,795.6 L1531.1,828.7 L1532.1,790.0 L1533.1,723.1 L1534.2,669.2 L1535.2,648.6 L1536.2,655.8 L1537.2,680.8 L1538.2,708.4 L1539.2,733.6 L1540.2,762.7 L1541.2,800.5 L1542.2,837.1 L1543.2,840.2 L1544.2,849.7 L1545.2,867.0 L1546.2,885.9 L1547.2,905.1 L1548.2,921.0 L1549.2,924.2 L1550.2,899.0 L1551.2,867.2 L1552.2,844.0 L1553.2,831.4 L1554.2,822.7 L1555.3,806.0 L1556.3,775.5 L1557.3,739.0 L1558.3,710.8 L1559.3,699.8 L1560.3,692.9 L1561.3,679.7 L1562.3,662.5 L1563.3,650.8 L1564.3,653.5 L1565.3,675.1 L1566.3,722.3 L1567.3,768.5 L1568.3,791.3 L1569.3,821.5 L1570.3,840.0 L1571.3,839.9 L1572.3,819.9 L1573.3,800.3 L1574.3,812.7 L1575.4,853.3 L1576.4,923.6 L1577.4,964.9 L1578.4,927.9 L1579.4,860.0 L1580.4,805.0 L1581.4,770.3 L1582.4,745.0 L1583.4,725.1 L1584.4,716.2 L1585.4,720.9 L1586.4,740.5 L1587.4,797.0 L1588.4,840.2 L1589.4,840.2 L1590.4,840.1 L1591.4,838.6 L1592.4,777.0 L1593.4,723.4 L1594.5,709.9 L1595.5,704.2 L1596.5,710.3 L1597.5,723.3 L1598.5,727.4 L1599.5,728.7 L1600.5,728.9 L1601.5,728.9 L1602.5,728.9 L1603.5,729.0 L1604.5,729.0" fill="none" stroke="#00FF00" stroke-width="10" stroke-linejoin="bevel" stroke-dasharray="37.75 8 19.25 7.75"/>
</g>
<line x1="197.5" y1="30.0" x2="197.5" y2="1021.0" stroke="#262626" stroke-width="3"/>
<line x1="1604.0" y1="30.0" x2="1604.0" y2="1021.0" stroke="#262626" stroke-width="2"/>
<line x1="195.5" y1="31.0" x2="1605.0" y2="31.0" stroke="#262626" stroke-width="2"/>
<line x1="195.5" y1="1019.5" x2="1605.0" y2="1019.5" stroke="#262626" stroke-width="3"/>
<line x1="197.0" y1="1019.5" x2="197.0" y2="1003.5" stroke="#262626" stroke-width="2"/>
<line x1="197.0" y1="31.0" x2="197.0" y2="47.0" stroke="#262626" stroke-width="2"/>
<line x1="548.9" y1="1019.5" x2="548.9" y2="1003.5" stroke="#262626" stroke-width="2"/>
<line x1="548.9" y1="31.0" x2="548.9" y2="47.0" stroke="#262626" stroke-width="2"/>
<line x1="900.8" y1="1019.5" x2="900.8" y2="1003.5" stroke="#262626" stroke-width="2"/>
<line x1="900.8" y1="31.0" x2="900.8" y2="47.0" stroke="#262626" stroke-width="2"/>
<line x1="1252.6" y1="1019.5" x2="1252.6" y2="1003.5" stroke="#262626" stroke-width="2"/>
<line x1="1252.6" y1="31.0" x2="1252.6" y2="47.0" stroke="#262626" stroke-width="2"/>
<line x1="1604.5" y1="1019.5" x2="1604.5" y2="1003.5" stroke="#262626" stroke-width="2"/>
<line x1="1604.5" y1="31.0" x2="1604.5" y2="47.0" stroke="#262626" stroke-width="2"/>
<line x1="197.0" y1="834.2" x2="213.0" y2="834.2" stroke="#262626" stroke-width="2"/>
<line x1="1604.5" y1="834.2" x2="1588.5" y2="834.2" stroke="#262626" stroke-width="2"/>
<line x1="197.0" y1="587.0" x2="213.0" y2="587.0" stroke="#262626" stroke-width="2"/>
<line x1="1604.5" y1="587.0" x2="1588.5" y2="587.0" stroke="#262626" stroke-width="2"/>
<line x1="197.0" y1="339.9" x2="213.0" y2="339.9" stroke="#262626" stroke-width="2"/>
<line x1="1604.5" y1="339.9" x2="1588.5" y2="339.9" stroke="#262626" stroke-width="2"/>
<line x1="197.0" y1="92.8" x2="213.0" y2="92.8" stroke="#262626" stroke-width="2"/>
<line x1="1604.5" y1="92.8" x2="1588.5" y2="92.8" stroke="#262626" stroke-width="2"/>
<defs><clipPath id="c1_0" clipPathUnits="userSpaceOnUse"><rect x="-500" y="-500" width="1000" height="492.93"/><rect x="-500" y="-500" width="495.65" height="1000"/><rect x="8.44" y="-50" width="9.51" height="100"/></clipPath><clipPath id="c1_1" clipPathUnits="userSpaceOnUse"><rect x="-500" y="-500" width="1000" height="492.93"/><rect x="-500" y="-500" width="484.11" height="1000"/><rect x="-3.10" y="-50" width="9.51" height="100"/></clipPath></defs>
<text transform="translate(177.5,861.2) scale(0.95,1)" text-anchor="end" class="t">0</text>
<text transform="translate(177.5,614.0) scale(0.95,1)" text-anchor="end" class="t">20</text>
<text transform="translate(177.5,366.9) scale(0.95,1)" text-anchor="end" class="t">40</text>
<text transform="translate(177.5,119.8) scale(0.95,1)" text-anchor="end" class="t">60</text>
<text clip-path="url(#c1_0)" transform="translate(198.5,1106.7) scale(0.95,1)" text-anchor="middle" class="t">-1</text>
<text transform="translate(548.9,1106.7) scale(0.95,1)" text-anchor="middle" class="t">-0.5</text>
<text transform="translate(900.8,1106.7) scale(0.95,1)" text-anchor="middle" class="t">0</text>
<text transform="translate(1252.6,1106.7) scale(0.95,1)" text-anchor="middle" class="t">0.5</text>
<text clip-path="url(#c1_1)" transform="translate(1604.5,1106.7) scale(0.95,1)" text-anchor="middle" class="t">1</text>
<text transform="translate(902.0,1198.6) scale(0.95,1)" text-anchor="middle" class="t" style="font-size:77px">Doppler Frequency/Hz</text>
<text transform="translate(77.9,528.0) rotate(-90) scale(0.95,1)" text-anchor="middle" class="t" style="font-size:77px">Amplitude/dB</text>
<text transform="translate(719.5,149.0) scale(0.955,1)" text-anchor="start" class="k" style="font-size:58px">target</text>
<line x1="784.75" y1="167.7" x2="840" y2="253" stroke="#000" stroke-width="2"/>
<polygon points="849.3,267.4 822,246.5 837.5,247.3 841.5,235.3" fill="#000"/>
<rect x="895" y="86" width="121" height="297.5" fill="#fff"/>
<clipPath id="ic"><rect x="895" y="86" width="121" height="297.5"/></clipPath>
<g clip-path="url(#ic)" shape-rendering="crispEdges"><polyline points="910.2,400 948.3,201.7 959.8,178 973,125.5" fill="none" stroke="#0072BD" stroke-width="7" stroke-dasharray="24.5 23" stroke-dashoffset="27.1"/>
<polyline points="973,125.5 1011.7,400" fill="none" stroke="#0072BD" stroke-width="7" stroke-dasharray="24.5 24" stroke-dashoffset="38.4"/>
<polyline points="924.7,400 974.6,191.5 1001.9,400" fill="none" stroke="#D95319" stroke-width="7" stroke-linejoin="round"/>
<polyline points="925.7,400 974.6,192 1001.5,400" fill="none" stroke="#00FF00" stroke-width="7" stroke-linejoin="round" stroke-dasharray="24.5 5.3 12.6 5.1" stroke-dashoffset="29.95"/></g>
<rect x="895" y="86" width="121" height="297.5" fill="none" stroke="#262626" stroke-width="2"/>
<line x1="895" y1="120.5" x2="898" y2="120.5" stroke="#262626" stroke-width="2"/>
<line x1="1016" y1="120.5" x2="1013" y2="120.5" stroke="#262626" stroke-width="2"/>
<text transform="translate(1030.2,136.3) scale(0.943,1)" text-anchor="start" class="t" style="font-size:44.5px">45</text>
<line x1="895" y1="247.8" x2="898" y2="247.8" stroke="#262626" stroke-width="2"/>
<line x1="1016" y1="247.8" x2="1013" y2="247.8" stroke="#262626" stroke-width="2"/>
<text transform="translate(1030.2,263.6) scale(0.943,1)" text-anchor="start" class="t" style="font-size:44.5px">40</text>
<line x1="895" y1="374.9" x2="898" y2="374.9" stroke="#262626" stroke-width="2"/>
<line x1="1016" y1="374.9" x2="1013" y2="374.9" stroke="#262626" stroke-width="2"/>
<text transform="translate(1030.2,390.7) scale(0.943,1)" text-anchor="start" class="t" style="font-size:44.5px">35</text>
<line x1="955.8" y1="86" x2="955.8" y2="89" stroke="#262626" stroke-width="2"/>
<line x1="955.8" y1="383.5" x2="955.8" y2="380.5" stroke="#262626" stroke-width="2"/>
<text transform="translate(976.3,437.3) rotate(-30) scale(0.943,1)" text-anchor="end" class="t" style="font-size:44.5px">-0.05</text>
<rect x="1204.5" y="56" width="375" height="228.5" fill="#fff" stroke="#262626" stroke-width="2"/>
<line x1="1213" y1="96" x2="1305" y2="96" stroke="#0072BD" stroke-width="10" stroke-dasharray="37.75 35"/>
<line x1="1213" y1="169.75" x2="1305" y2="169.75" stroke="#D95319" stroke-width="10"/>
<line x1="1213" y1="243.75" x2="1305" y2="243.75" stroke="#00FF00" stroke-width="10" stroke-dasharray="37.75 8 19.25 8"/>
<text transform="translate(1312.3,118.2) scale(0.93,1)" text-anchor="start" class="k" style="font-size:61.5px">Original</text>
<text transform="translate(1310.5,192.1) scale(0.93,1)" text-anchor="start" class="k" style="font-size:61.5px">APES-OP</text>
<text transform="translate(1312.3,266.0) scale(0.93,1)" text-anchor="start" class="k" style="font-size:61.5px">GSC</text>
</svg>
</body></html>
